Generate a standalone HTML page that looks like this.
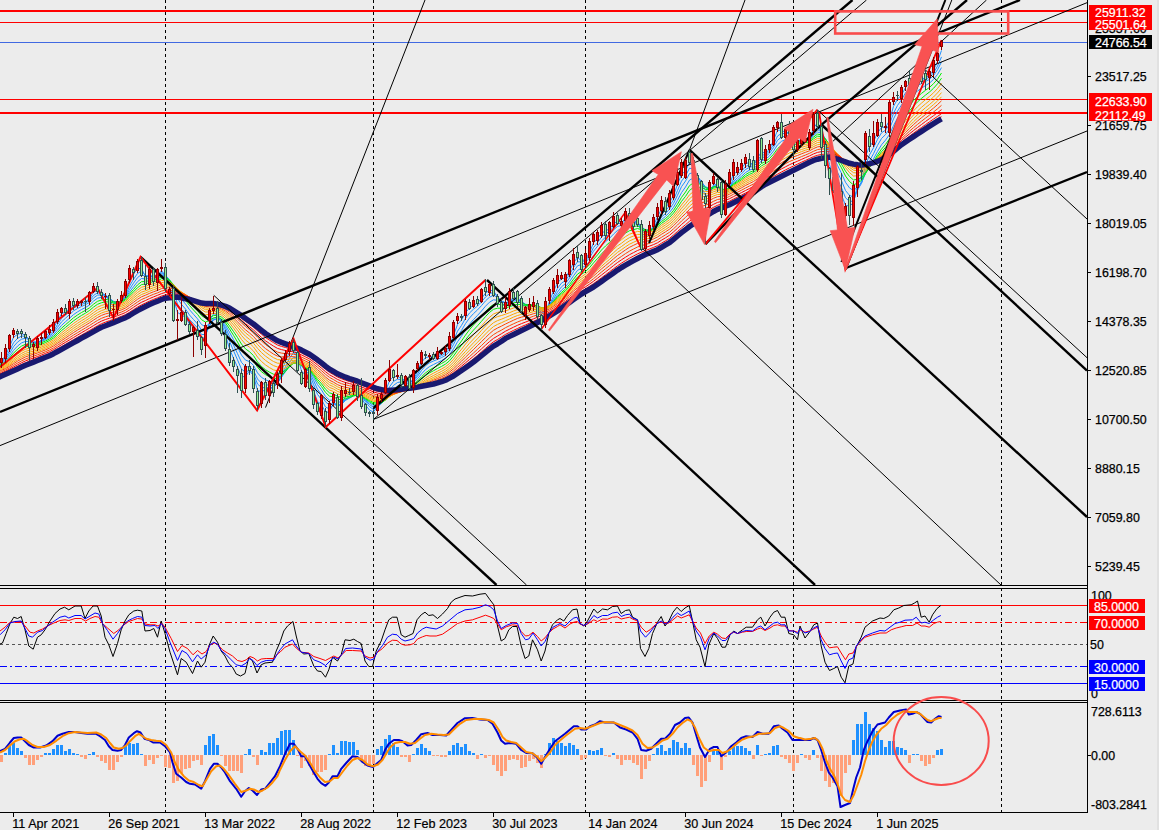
<!DOCTYPE html>
<html><head><meta charset="utf-8"><title>chart</title>
<style>html,body{margin:0;padding:0;background:#ececec;}body{width:1159px;height:830px;overflow:hidden;position:relative;font-family:"Liberation Sans",sans-serif;}</style>
</head><body>
<svg width="1159" height="830" viewBox="0 0 1159 830" style="position:absolute;left:0;top:0">
<rect width="1159" height="830" fill="#ececec"/>
<defs><clipPath id="cm"><rect x="0" y="0" width="1087" height="585"/></clipPath><clipPath id="cr"><rect x="0" y="588" width="1087" height="112"/></clipPath><clipPath id="cd"><rect x="0" y="703" width="1087" height="109"/></clipPath></defs>
<line x1="165.5" y1="0.0" x2="165.5" y2="812.0" stroke="#000" stroke-width="1" stroke-dasharray="3 3" shape-rendering="crispEdges"/>
<line x1="373.5" y1="0.0" x2="373.5" y2="812.0" stroke="#000" stroke-width="1" stroke-dasharray="3 3" shape-rendering="crispEdges"/>
<line x1="585.5" y1="0.0" x2="585.5" y2="812.0" stroke="#000" stroke-width="1" stroke-dasharray="3 3" shape-rendering="crispEdges"/>
<line x1="793.5" y1="0.0" x2="793.5" y2="812.0" stroke="#000" stroke-width="1" stroke-dasharray="3 3" shape-rendering="crispEdges"/>
<line x1="1001.5" y1="0.0" x2="1001.5" y2="812.0" stroke="#000" stroke-width="1" stroke-dasharray="3 3" shape-rendering="crispEdges"/>
<g clip-path="url(#cm)">
<line x1="0.0" y1="11.0" x2="1087.0" y2="11.0" stroke="#ff0000" stroke-width="2" shape-rendering="crispEdges"/>
<line x1="0.0" y1="22.5" x2="1087.0" y2="22.5" stroke="#ff0000" stroke-width="1" shape-rendering="crispEdges"/>
<line x1="0.0" y1="42.5" x2="1087.0" y2="42.5" stroke="#4169e1" stroke-width="1" shape-rendering="crispEdges"/>
<line x1="0.0" y1="99.5" x2="1087.0" y2="99.5" stroke="#ff0000" stroke-width="1" shape-rendering="crispEdges"/>
<line x1="0.0" y1="113.0" x2="1087.0" y2="113.0" stroke="#ff0000" stroke-width="2" shape-rendering="crispEdges"/>
<polyline points="-2.5,365.9 1.5,360.8 5.5,355.8 9.5,346.6 13.5,337.4 17.5,334.3 21.5,333.4 25.5,335.5 29.5,340.4 33.5,344.0 37.5,343.4 41.5,339.9 45.5,336.2 49.5,332.7 53.5,328.5 57.5,320.6 61.5,314.0 65.5,311.8 69.5,308.9 73.5,305.2 77.5,304.1 81.5,302.9 85.5,301.7 89.5,298.8 93.5,292.3 97.5,290.2 101.5,293.0 105.5,295.3 109.5,300.5 113.5,306.6 117.5,305.7 121.5,300.3 125.5,292.4 129.5,280.2 133.5,273.9 137.5,268.7 141.5,268.4 145.5,276.7 149.5,276.7 153.5,276.1 157.5,276.1 161.5,270.6 165.5,275.5 169.5,286.2 173.5,298.2 177.5,312.4 181.5,315.0 185.5,317.3 189.5,324.2 193.5,327.4 197.5,331.2 201.5,339.3 205.5,336.4 209.5,322.2 213.5,313.7 217.5,314.6 221.5,323.1 225.5,335.1 229.5,348.7 233.5,358.3 237.5,367.2 241.5,376.6 245.5,376.7 249.5,370.6 253.5,375.8 257.5,390.4 261.5,391.8 265.5,389.6 269.5,388.5 273.5,387.8 277.5,381.8 281.5,371.3 285.5,361.1 289.5,351.9 293.5,348.3 297.5,357.0 301.5,370.8 305.5,375.5 309.5,377.1 313.5,390.5 317.5,401.6 321.5,404.4 325.5,412.4 329.5,411.9 333.5,403.1 337.5,405.9 341.5,404.6 345.5,396.5 349.5,393.8 353.5,390.4 357.5,390.9 361.5,397.8 365.5,404.9 369.5,410.2 373.5,411.9 377.5,406.7 381.5,400.2 385.5,391.3 389.5,380.7 393.5,376.5 397.5,376.4 401.5,378.9 405.5,380.3 409.5,382.1 413.5,380.1 417.5,370.8 421.5,362.3 425.5,357.6 429.5,356.7 433.5,356.7 437.5,355.8 441.5,354.2 445.5,351.7 449.5,345.7 453.5,335.4 457.5,324.5 461.5,320.0 465.5,312.7 469.5,308.1 473.5,305.3 477.5,303.0 481.5,298.4 485.5,293.1 489.5,290.3 493.5,290.6 497.5,297.2 501.5,304.1 505.5,305.2 509.5,300.8 513.5,297.6 517.5,297.6 521.5,302.8 525.5,308.3 529.5,307.7 533.5,305.7 537.5,308.7 541.5,316.0 545.5,313.7 549.5,301.1 553.5,291.0 557.5,282.9 561.5,278.7 565.5,278.0 569.5,271.0 573.5,262.9 577.5,257.5 581.5,260.8 585.5,259.4 589.5,252.6 593.5,242.8 597.5,238.7 601.5,233.2 605.5,230.9 609.5,228.9 613.5,224.0 617.5,220.8 621.5,222.7 625.5,218.2 629.5,218.1 633.5,222.3 637.5,221.9 641.5,231.9 645.5,237.2 649.5,232.7 653.5,225.7 657.5,216.7 661.5,209.1 665.5,207.4 669.5,202.6 673.5,195.5 677.5,184.4 681.5,174.3 685.5,171.0 689.5,162.3 693.5,167.8 697.5,178.7 701.5,186.9 705.5,195.8 709.5,195.3 713.5,185.1 717.5,184.1 721.5,193.7 725.5,197.3 729.5,184.1 733.5,174.1 737.5,171.4 741.5,168.2 745.5,163.2 749.5,163.0 753.5,164.2 757.5,158.2 761.5,151.7 765.5,153.6 769.5,149.0 773.5,140.3 777.5,130.3 781.5,130.2 785.5,132.5 789.5,132.2 793.5,140.4 797.5,143.5 801.5,140.5 805.5,140.2 809.5,139.8 813.5,128.2 817.5,122.7 821.5,132.3 825.5,147.5 829.5,164.6 833.5,177.4 837.5,188.4 841.5,194.9 845.5,205.5 849.5,205.9 853.5,202.8 857.5,185.2 861.5,175.5 865.5,156.3 869.5,146.3 873.5,141.5 877.5,133.0 881.5,127.4 885.5,127.2 889.5,120.7 893.5,106.4 897.5,99.2 901.5,95.0 905.5,87.6 909.5,83.8 913.5,81.3 917.5,79.9 921.5,79.4 925.5,77.5 929.5,75.7 933.5,69.9 937.5,61.7 941.5,50.4" fill="none" stroke="#1e90ff" stroke-width="1" />
<polyline points="-2.5,365.2 1.5,361.5 5.5,357.9 9.5,350.8 13.5,342.8 17.5,338.4 21.5,336.0 25.5,336.3 29.5,339.2 33.5,342.1 37.5,342.6 41.5,340.6 45.5,337.8 49.5,334.8 53.5,331.0 57.5,324.6 61.5,318.5 65.5,315.0 69.5,311.6 73.5,308.0 77.5,306.1 81.5,304.4 85.5,303.0 89.5,300.5 93.5,295.5 97.5,292.7 101.5,293.5 105.5,294.9 109.5,298.5 113.5,303.5 117.5,304.2 121.5,301.3 125.5,295.6 129.5,286.1 133.5,279.3 137.5,273.5 141.5,271.2 145.5,275.5 149.5,276.0 153.5,275.9 157.5,276.0 161.5,272.4 165.5,274.9 169.5,282.3 173.5,292.0 177.5,304.1 181.5,309.5 185.5,313.4 189.5,319.6 193.5,323.7 197.5,327.8 201.5,334.5 205.5,334.5 209.5,325.7 213.5,318.3 217.5,316.8 221.5,321.4 225.5,330.0 229.5,341.1 233.5,350.7 237.5,359.8 241.5,369.1 245.5,372.3 249.5,370.0 253.5,373.5 257.5,384.0 261.5,387.5 265.5,387.8 269.5,387.6 273.5,387.3 277.5,383.3 281.5,375.5 285.5,366.7 289.5,358.0 293.5,352.8 297.5,356.6 301.5,365.9 305.5,371.2 309.5,374.1 313.5,384.3 317.5,394.4 321.5,399.5 325.5,407.0 329.5,409.0 333.5,404.4 337.5,405.7 341.5,404.9 345.5,399.4 349.5,396.4 353.5,393.0 357.5,392.2 361.5,396.3 365.5,401.7 369.5,406.7 373.5,409.4 377.5,407.1 381.5,402.6 385.5,395.7 389.5,386.8 393.5,381.4 397.5,379.2 401.5,379.7 405.5,380.4 409.5,381.6 413.5,380.6 417.5,374.3 421.5,367.2 425.5,362.0 429.5,359.6 433.5,358.5 437.5,357.2 441.5,355.7 445.5,353.5 449.5,348.9 453.5,340.7 457.5,331.2 461.5,325.4 465.5,318.4 469.5,313.0 473.5,309.1 477.5,306.1 481.5,301.8 485.5,297.0 489.5,293.6 493.5,292.5 497.5,296.2 501.5,301.4 505.5,303.4 509.5,301.4 513.5,299.2 517.5,298.6 521.5,301.8 525.5,306.0 529.5,306.6 533.5,305.8 537.5,307.7 541.5,312.9 545.5,312.6 549.5,304.6 553.5,296.2 557.5,288.4 561.5,283.1 565.5,280.5 569.5,274.6 573.5,267.5 577.5,261.8 581.5,261.9 585.5,260.4 589.5,255.4 593.5,247.6 597.5,242.7 601.5,237.2 605.5,233.9 609.5,231.2 613.5,226.9 617.5,223.5 621.5,223.6 625.5,220.3 629.5,219.3 633.5,221.6 637.5,221.7 641.5,228.4 645.5,233.5 649.5,232.1 653.5,227.7 657.5,220.9 661.5,214.0 665.5,210.7 669.5,206.1 673.5,199.8 677.5,190.5 681.5,181.1 685.5,176.0 689.5,168.1 693.5,169.3 697.5,176.0 701.5,182.7 705.5,190.4 709.5,192.4 713.5,186.9 717.5,185.4 721.5,191.2 725.5,194.6 729.5,187.0 733.5,179.0 737.5,175.0 741.5,171.3 745.5,166.5 749.5,164.9 753.5,164.8 757.5,160.5 761.5,155.1 765.5,154.8 769.5,151.2 773.5,144.5 777.5,136.0 781.5,133.4 785.5,133.6 789.5,132.9 793.5,138.1 797.5,141.2 801.5,140.3 805.5,140.1 809.5,139.9 813.5,132.1 817.5,126.8 821.5,131.4 825.5,142.0 829.5,155.7 833.5,168.2 837.5,179.5 841.5,187.7 845.5,197.8 849.5,201.4 853.5,201.1 857.5,190.0 861.5,181.3 865.5,165.8 869.5,154.9 873.5,147.8 877.5,139.3 881.5,132.8 885.5,130.2 889.5,124.4 893.5,113.3 897.5,105.4 901.5,99.8 905.5,92.8 909.5,88.0 913.5,84.5 917.5,82.2 921.5,81.0 925.5,79.1 929.5,77.3 933.5,72.9 937.5,66.2 941.5,56.9" fill="none" stroke="#1e90ff" stroke-width="1" />
<polyline points="-2.5,365.2 1.5,362.2 5.5,359.2 9.5,353.5 13.5,346.7 17.5,342.1 21.5,339.2 25.5,338.3 29.5,339.8 33.5,341.8 37.5,342.2 41.5,340.8 45.5,338.7 49.5,336.1 53.5,332.8 57.5,327.4 61.5,321.9 65.5,318.2 69.5,314.6 73.5,310.9 77.5,308.5 81.5,306.5 85.5,304.7 89.5,302.3 93.5,298.0 97.5,295.1 101.5,294.9 105.5,295.5 109.5,298.0 113.5,301.9 117.5,302.9 121.5,301.2 125.5,296.9 129.5,289.4 133.5,283.2 137.5,277.6 141.5,274.5 145.5,276.6 149.5,276.7 153.5,276.4 157.5,276.3 161.5,273.6 165.5,275.0 169.5,280.6 173.5,288.4 177.5,298.5 181.5,304.4 185.5,309.0 189.5,315.0 193.5,319.5 197.5,323.9 201.5,330.1 205.5,331.4 209.5,325.7 213.5,320.1 217.5,318.3 221.5,321.1 225.5,327.5 229.5,336.5 233.5,345.1 237.5,353.6 241.5,362.4 245.5,366.8 249.5,366.8 253.5,370.3 257.5,379.0 261.5,383.2 265.5,384.6 269.5,385.4 273.5,385.7 277.5,383.1 281.5,377.2 285.5,369.9 289.5,362.3 293.5,357.1 297.5,358.4 301.5,364.8 305.5,369.1 309.5,372.0 313.5,380.4 317.5,389.2 321.5,394.7 325.5,401.9 329.5,405.1 333.5,403.0 337.5,404.5 341.5,404.3 345.5,400.4 349.5,397.8 353.5,394.9 357.5,393.7 361.5,396.3 365.5,400.4 369.5,404.5 373.5,407.3 377.5,406.4 381.5,403.3 385.5,398.0 389.5,390.6 393.5,385.4 397.5,382.5 401.5,381.8 405.5,381.7 409.5,382.2 413.5,381.3 417.5,376.4 421.5,370.5 425.5,365.7 429.5,362.8 433.5,361.0 437.5,359.4 441.5,357.6 445.5,355.5 449.5,351.4 453.5,344.6 457.5,336.3 461.5,330.4 465.5,323.6 469.5,318.0 473.5,313.6 477.5,309.9 481.5,305.6 485.5,300.9 489.5,297.2 493.5,295.3 497.5,297.3 501.5,300.9 505.5,302.6 509.5,301.5 513.5,299.9 517.5,299.4 521.5,301.5 525.5,304.8 529.5,305.7 533.5,305.3 537.5,306.9 541.5,310.9 545.5,311.3 549.5,305.6 553.5,298.9 557.5,292.1 561.5,286.8 565.5,283.5 569.5,278.0 573.5,271.5 577.5,265.8 581.5,264.5 585.5,262.4 589.5,257.9 593.5,251.2 597.5,246.3 601.5,241.0 605.5,237.2 609.5,234.1 613.5,230.0 617.5,226.4 621.5,225.5 625.5,222.4 629.5,221.0 633.5,222.2 637.5,222.1 641.5,227.0 645.5,231.2 649.5,230.9 653.5,228.0 657.5,222.8 661.5,217.0 665.5,213.6 669.5,209.2 673.5,203.4 677.5,195.3 681.5,186.7 685.5,181.1 689.5,173.6 693.5,172.7 697.5,176.6 701.5,181.4 705.5,187.6 709.5,190.0 713.5,186.6 717.5,185.5 721.5,189.8 725.5,192.7 729.5,187.6 733.5,181.4 737.5,177.6 741.5,173.9 745.5,169.5 749.5,167.3 753.5,166.4 757.5,162.5 761.5,157.8 765.5,156.6 769.5,153.3 773.5,147.6 777.5,140.3 781.5,137.0 785.5,136.0 789.5,134.8 793.5,138.0 797.5,140.4 801.5,139.9 805.5,139.9 809.5,139.7 813.5,134.0 817.5,129.5 821.5,132.1 825.5,139.8 829.5,150.7 833.5,161.7 837.5,172.3 841.5,180.7 845.5,190.5 849.5,195.4 853.5,197.0 857.5,190.0 861.5,183.4 865.5,171.1 869.5,161.1 873.5,153.7 877.5,145.4 881.5,138.5 885.5,134.6 889.5,128.8 893.5,118.9 897.5,111.1 901.5,105.0 905.5,98.0 909.5,92.7 913.5,88.7 917.5,85.6 921.5,83.6 925.5,81.4 929.5,79.4 933.5,75.5 937.5,69.8 941.5,61.9" fill="none" stroke="#1e90ff" stroke-width="1" />
<polyline points="-2.5,365.8 1.5,363.2 5.5,360.7 9.5,356.1 13.5,350.4 17.5,346.1 21.5,342.9 25.5,341.4 29.5,341.8 33.5,342.7 37.5,342.8 41.5,341.6 45.5,339.7 49.5,337.6 53.5,334.7 57.5,330.2 61.5,325.4 65.5,321.7 69.5,318.2 73.5,314.6 77.5,311.9 81.5,309.5 85.5,307.5 89.5,305.0 93.5,301.1 97.5,298.2 101.5,297.3 105.5,297.2 109.5,298.7 113.5,301.3 117.5,302.2 121.5,301.0 125.5,297.9 129.5,292.0 133.5,286.8 137.5,281.7 141.5,278.5 145.5,279.0 149.5,278.5 153.5,277.8 157.5,277.4 161.5,275.1 165.5,275.8 169.5,279.8 173.5,285.8 177.5,293.9 181.5,299.4 185.5,304.0 189.5,309.7 193.5,314.3 197.5,318.8 201.5,324.5 205.5,326.7 209.5,323.5 213.5,319.7 217.5,318.4 221.5,320.4 225.5,325.2 229.5,332.3 233.5,339.6 237.5,347.2 241.5,355.1 245.5,360.1 249.5,361.6 253.5,365.4 257.5,372.9 261.5,377.4 265.5,379.8 269.5,381.4 273.5,382.4 277.5,381.2 281.5,377.1 285.5,371.7 289.5,365.6 293.5,360.9 297.5,361.0 301.5,365.1 305.5,368.2 309.5,370.7 313.5,377.3 317.5,384.6 321.5,389.9 325.5,396.5 329.5,400.3 333.5,399.9 337.5,401.8 341.5,402.3 345.5,400.0 349.5,398.2 353.5,395.9 357.5,394.9 361.5,396.6 365.5,399.6 369.5,402.9 373.5,405.4 377.5,405.2 381.5,403.3 385.5,399.4 389.5,393.6 393.5,389.1 397.5,386.1 401.5,384.7 405.5,383.9 409.5,383.8 413.5,382.7 417.5,378.8 421.5,373.9 425.5,369.6 429.5,366.6 433.5,364.5 437.5,362.5 441.5,360.5 445.5,358.3 449.5,354.6 453.5,348.9 457.5,341.8 461.5,336.1 465.5,329.7 469.5,324.2 473.5,319.5 477.5,315.4 481.5,311.0 485.5,306.2 489.5,302.2 493.5,299.8 497.5,300.3 501.5,302.3 505.5,303.2 509.5,302.4 513.5,301.1 517.5,300.5 521.5,301.9 525.5,304.2 529.5,305.0 533.5,304.9 537.5,306.1 541.5,309.1 545.5,309.6 549.5,305.7 553.5,300.6 557.5,295.0 561.5,290.1 565.5,286.7 569.5,281.7 573.5,275.8 577.5,270.4 581.5,268.1 585.5,265.6 589.5,261.4 593.5,255.6 597.5,250.8 601.5,245.7 605.5,241.7 609.5,238.3 613.5,234.1 617.5,230.4 621.5,228.8 625.5,225.7 629.5,223.9 633.5,224.1 637.5,223.6 641.5,226.8 645.5,229.9 649.5,230.0 653.5,228.1 657.5,224.3 661.5,219.6 665.5,216.4 669.5,212.4 673.5,207.3 677.5,200.3 681.5,192.7 685.5,187.0 689.5,180.1 693.5,177.9 697.5,179.6 701.5,182.4 705.5,186.7 709.5,188.6 713.5,186.4 717.5,185.6 721.5,188.6 725.5,191.0 729.5,187.6 733.5,182.9 737.5,179.7 741.5,176.4 745.5,172.5 749.5,170.1 753.5,168.6 757.5,165.1 761.5,160.8 765.5,159.1 769.5,156.0 773.5,151.1 777.5,144.9 781.5,141.3 785.5,139.6 789.5,137.8 793.5,139.5 797.5,140.8 801.5,140.4 805.5,140.2 809.5,140.0 813.5,135.7 817.5,132.0 821.5,133.4 825.5,138.8 829.5,147.1 833.5,156.2 837.5,165.4 841.5,173.3 845.5,182.3 849.5,187.9 853.5,190.7 857.5,187.0 861.5,182.7 865.5,173.6 869.5,165.5 873.5,158.9 877.5,151.4 881.5,144.8 885.5,140.2 889.5,134.4 893.5,125.6 897.5,118.0 901.5,111.7 905.5,104.9 909.5,99.3 913.5,94.7 917.5,91.0 921.5,88.2 925.5,85.5 929.5,83.1 933.5,79.4 937.5,74.4 941.5,67.6" fill="none" stroke="#1e90ff" stroke-width="1" />
<polyline points="-2.5,366.5 1.5,364.2 5.5,362.0 9.5,358.0 13.5,353.2 17.5,349.2 21.5,346.1 25.5,344.3 29.5,344.0 33.5,344.2 37.5,343.9 41.5,342.7 45.5,341.0 49.5,339.0 53.5,336.4 57.5,332.5 61.5,328.2 65.5,324.7 69.5,321.3 73.5,317.8 77.5,315.0 81.5,312.5 85.5,310.3 89.5,307.8 93.5,304.2 97.5,301.3 101.5,300.0 105.5,299.4 109.5,300.1 113.5,301.9 117.5,302.4 121.5,301.4 125.5,298.9 129.5,294.0 133.5,289.5 137.5,284.9 141.5,281.7 145.5,281.5 149.5,280.6 153.5,279.6 157.5,278.9 161.5,276.8 165.5,277.1 169.5,280.0 173.5,284.7 177.5,291.2 181.5,296.1 185.5,300.4 189.5,305.5 193.5,310.0 197.5,314.3 201.5,319.7 205.5,322.1 209.5,320.4 213.5,317.9 217.5,317.1 221.5,318.9 225.5,322.9 229.5,328.9 233.5,335.3 237.5,342.0 241.5,349.2 245.5,354.2 249.5,356.5 253.5,360.4 257.5,367.2 261.5,371.8 265.5,374.7 269.5,376.8 273.5,378.5 277.5,378.2 281.5,375.5 285.5,371.4 289.5,366.7 293.5,362.8 297.5,362.6 301.5,365.5 305.5,367.9 309.5,370.0 313.5,375.4 317.5,381.6 321.5,386.5 325.5,392.4 329.5,396.2 333.5,396.8 337.5,399.0 341.5,399.9 345.5,398.6 349.5,397.5 353.5,395.9 357.5,395.2 361.5,396.5 365.5,398.9 369.5,401.7 373.5,404.0 377.5,404.1 381.5,402.8 385.5,399.9 389.5,395.3 393.5,391.4 397.5,388.7 401.5,387.1 405.5,386.0 409.5,385.5 413.5,384.3 417.5,381.0 421.5,376.8 425.5,372.9 429.5,370.0 433.5,367.7 437.5,365.6 441.5,363.5 445.5,361.2 449.5,357.8 453.5,352.7 457.5,346.3 461.5,341.0 465.5,335.1 469.5,329.7 473.5,325.0 477.5,320.8 481.5,316.2 485.5,311.5 489.5,307.4 493.5,304.5 497.5,304.1 501.5,304.9 505.5,305.2 509.5,304.2 513.5,302.9 517.5,302.1 521.5,302.9 525.5,304.5 529.5,305.0 533.5,304.9 537.5,305.8 541.5,308.1 545.5,308.5 549.5,305.5 553.5,301.3 557.5,296.6 561.5,292.3 565.5,289.0 569.5,284.5 573.5,279.2 577.5,274.1 581.5,271.5 585.5,268.7 589.5,264.7 593.5,259.4 597.5,254.9 601.5,250.0 605.5,246.0 609.5,242.4 613.5,238.3 617.5,234.5 621.5,232.4 625.5,229.3 629.5,227.2 633.5,226.7 637.5,225.8 641.5,227.9 645.5,230.0 649.5,230.1 653.5,228.6 657.5,225.5 661.5,221.5 665.5,218.6 669.5,215.0 673.5,210.4 677.5,204.2 681.5,197.4 685.5,192.0 689.5,185.6 693.5,182.9 697.5,183.2 701.5,184.7 705.5,187.6 709.5,188.8 713.5,186.9 717.5,186.2 721.5,188.4 725.5,190.2 729.5,187.6 733.5,183.9 737.5,181.1 741.5,178.2 745.5,174.7 749.5,172.3 753.5,170.7 757.5,167.4 761.5,163.5 765.5,161.4 769.5,158.5 773.5,154.2 777.5,148.7 781.5,145.2 785.5,143.1 789.5,141.1 793.5,141.7 797.5,142.3 801.5,141.6 805.5,141.2 809.5,140.8 813.5,137.2 817.5,134.1 821.5,134.9 825.5,138.9 829.5,145.3 833.5,152.9 837.5,160.8 841.5,167.9 845.5,176.0 849.5,181.5 853.5,184.9 857.5,183.0 861.5,180.4 865.5,173.6 869.5,167.2 873.5,161.5 877.5,155.0 881.5,149.1 885.5,144.4 889.5,138.9 893.5,131.0 897.5,123.9 901.5,117.6 905.5,111.1 909.5,105.5 913.5,100.6 917.5,96.6 921.5,93.4 925.5,90.3 929.5,87.4 933.5,83.7 937.5,79.1 941.5,73.0" fill="none" stroke="#00ee00" stroke-width="1" />
<polyline points="-2.5,367.4 1.5,365.3 5.5,363.2 9.5,359.7 13.5,355.4 17.5,351.8 21.5,348.9 25.5,346.9 29.5,346.2 33.5,346.0 37.5,345.4 41.5,344.1 45.5,342.5 49.5,340.5 53.5,338.1 57.5,334.5 61.5,330.6 65.5,327.4 69.5,324.1 73.5,320.8 77.5,318.0 81.5,315.4 85.5,313.1 89.5,310.5 93.5,307.1 97.5,304.3 101.5,302.7 105.5,301.8 109.5,302.0 113.5,303.1 117.5,303.3 121.5,302.3 125.5,300.0 129.5,295.9 133.5,291.8 137.5,287.7 141.5,284.6 145.5,283.9 149.5,282.7 153.5,281.6 157.5,280.7 161.5,278.7 165.5,278.6 169.5,280.8 173.5,284.4 177.5,289.7 181.5,294.0 185.5,297.9 189.5,302.5 193.5,306.6 197.5,310.7 201.5,315.6 205.5,318.1 209.5,317.2 213.5,315.6 217.5,315.3 221.5,317.1 225.5,320.6 229.5,325.8 233.5,331.5 237.5,337.5 241.5,344.1 245.5,348.9 249.5,351.7 253.5,355.6 257.5,361.9 261.5,366.5 265.5,369.7 269.5,372.2 273.5,374.2 277.5,374.6 281.5,372.9 285.5,370.0 289.5,366.4 293.5,363.3 297.5,363.1 301.5,365.4 305.5,367.5 309.5,369.3 313.5,374.0 317.5,379.4 321.5,383.8 325.5,389.2 329.5,392.9 333.5,394.0 337.5,396.3 341.5,397.5 345.5,396.9 349.5,396.3 353.5,395.3 357.5,394.8 361.5,396.0 365.5,398.1 369.5,400.6 373.5,402.6 377.5,403.1 381.5,402.2 385.5,400.0 389.5,396.2 393.5,393.0 397.5,390.4 401.5,388.8 405.5,387.6 409.5,386.9 413.5,385.8 417.5,382.8 421.5,379.1 425.5,375.6 429.5,372.9 433.5,370.7 437.5,368.5 441.5,366.4 445.5,364.1 449.5,360.8 453.5,356.1 457.5,350.4 461.5,345.3 465.5,339.8 469.5,334.7 473.5,330.1 477.5,325.8 481.5,321.3 485.5,316.6 489.5,312.4 493.5,309.3 497.5,308.2 501.5,308.2 505.5,307.8 509.5,306.7 513.5,305.3 517.5,304.3 521.5,304.6 525.5,305.6 529.5,305.8 533.5,305.5 537.5,306.0 541.5,307.7 545.5,307.9 549.5,305.4 553.5,301.8 557.5,297.8 561.5,293.9 565.5,290.8 569.5,286.6 573.5,281.8 577.5,277.1 581.5,274.3 585.5,271.5 589.5,267.7 593.5,262.9 597.5,258.5 601.5,253.9 605.5,249.9 609.5,246.3 613.5,242.3 617.5,238.5 621.5,236.1 625.5,233.0 629.5,230.7 633.5,229.7 637.5,228.5 641.5,229.7 645.5,231.1 649.5,230.9 653.5,229.6 657.5,226.9 661.5,223.4 665.5,220.6 669.5,217.4 673.5,213.1 677.5,207.5 681.5,201.4 685.5,196.4 689.5,190.4 693.5,187.4 697.5,187.0 701.5,187.6 705.5,189.3 709.5,189.9 713.5,188.2 717.5,187.3 721.5,188.8 725.5,190.2 729.5,188.0 733.5,184.8 737.5,182.3 741.5,179.7 745.5,176.6 749.5,174.3 753.5,172.5 757.5,169.4 761.5,165.8 765.5,163.6 769.5,160.8 773.5,156.9 777.5,152.0 781.5,148.7 785.5,146.4 789.5,144.2 793.5,144.2 797.5,144.2 801.5,143.3 805.5,142.7 809.5,142.0 813.5,138.9 817.5,136.2 821.5,136.5 825.5,139.5 829.5,144.6 833.5,151.0 837.5,157.8 841.5,164.1 845.5,171.2 849.5,176.5 853.5,180.0 857.5,179.2 861.5,177.6 865.5,172.4 869.5,167.3 873.5,162.6 877.5,157.1 881.5,151.8 885.5,147.4 889.5,142.3 893.5,135.1 897.5,128.5 901.5,122.5 905.5,116.4 909.5,110.9 913.5,106.1 917.5,101.9 921.5,98.4 925.5,95.1 929.5,92.0 933.5,88.3 937.5,83.8 941.5,78.2" fill="none" stroke="#00ee00" stroke-width="1" />
<polyline points="-2.5,368.3 1.5,366.3 5.5,364.3 9.5,361.2 13.5,357.4 17.5,354.1 21.5,351.3 25.5,349.2 29.5,348.3 33.5,347.8 37.5,346.9 41.5,345.6 45.5,344.0 49.5,342.1 53.5,339.8 57.5,336.5 61.5,332.9 65.5,329.8 69.5,326.7 73.5,323.5 77.5,320.7 81.5,318.1 85.5,315.7 89.5,313.2 93.5,310.0 97.5,307.2 101.5,305.4 105.5,304.3 109.5,304.1 113.5,304.7 117.5,304.5 121.5,303.5 125.5,301.4 129.5,297.7 133.5,293.9 137.5,290.2 141.5,287.2 145.5,286.3 149.5,284.9 153.5,283.6 157.5,282.5 161.5,280.6 165.5,280.2 169.5,281.9 173.5,284.8 177.5,289.1 181.5,292.8 185.5,296.2 189.5,300.3 193.5,304.1 197.5,307.8 201.5,312.3 205.5,314.8 209.5,314.3 213.5,313.3 217.5,313.4 221.5,315.1 225.5,318.3 229.5,322.9 233.5,328.1 237.5,333.6 241.5,339.5 245.5,344.2 249.5,347.2 253.5,351.1 257.5,357.0 261.5,361.5 265.5,364.9 269.5,367.6 273.5,369.9 277.5,370.8 281.5,369.9 285.5,367.9 289.5,365.2 293.5,362.9 297.5,362.8 301.5,364.8 305.5,366.7 309.5,368.5 313.5,372.6 317.5,377.4 321.5,381.5 325.5,386.4 329.5,390.0 333.5,391.5 337.5,393.8 341.5,395.2 345.5,395.0 349.5,394.9 353.5,394.2 357.5,394.1 361.5,395.3 365.5,397.2 369.5,399.4 373.5,401.3 377.5,401.9 381.5,401.4 385.5,399.7 389.5,396.7 393.5,393.9 397.5,391.6 401.5,390.1 405.5,388.9 409.5,388.1 413.5,387.0 417.5,384.4 421.5,381.1 425.5,377.9 429.5,375.4 433.5,373.2 437.5,371.1 441.5,369.0 445.5,366.7 449.5,363.5 453.5,359.3 457.5,354.0 461.5,349.3 465.5,344.1 469.5,339.2 473.5,334.7 477.5,330.4 481.5,326.0 485.5,321.4 489.5,317.3 493.5,314.0 497.5,312.4 501.5,311.8 505.5,310.9 509.5,309.5 513.5,308.0 517.5,306.8 521.5,306.7 525.5,307.2 529.5,307.0 533.5,306.5 537.5,306.7 541.5,307.9 545.5,307.8 549.5,305.5 553.5,302.4 557.5,298.8 561.5,295.3 565.5,292.3 569.5,288.4 573.5,284.0 577.5,279.6 581.5,276.8 585.5,274.0 589.5,270.4 593.5,265.9 597.5,261.8 601.5,257.4 605.5,253.5 609.5,249.9 613.5,246.0 617.5,242.3 621.5,239.7 625.5,236.6 629.5,234.2 633.5,232.8 637.5,231.4 641.5,231.9 645.5,232.7 649.5,232.3 653.5,231.0 657.5,228.6 661.5,225.4 665.5,222.7 669.5,219.7 673.5,215.7 677.5,210.6 681.5,205.0 685.5,200.2 689.5,194.8 693.5,191.6 697.5,190.7 701.5,190.6 705.5,191.5 709.5,191.6 713.5,189.8 717.5,188.7 721.5,189.8 725.5,190.7 729.5,188.7 733.5,185.9 737.5,183.6 741.5,181.2 745.5,178.3 749.5,176.1 753.5,174.3 757.5,171.3 761.5,167.9 765.5,165.6 769.5,163.0 773.5,159.4 777.5,155.0 781.5,151.8 785.5,149.5 789.5,147.2 793.5,146.8 797.5,146.4 801.5,145.3 805.5,144.4 809.5,143.5 813.5,140.7 817.5,138.3 821.5,138.3 825.5,140.6 829.5,144.7 833.5,150.0 837.5,155.8 841.5,161.4 845.5,167.7 849.5,172.6 853.5,176.0 857.5,175.8 861.5,174.9 865.5,170.9 869.5,166.8 873.5,162.9 877.5,158.2 881.5,153.6 885.5,149.5 889.5,144.8 893.5,138.3 897.5,132.1 901.5,126.5 905.5,120.8 909.5,115.6 913.5,110.9 917.5,106.7 921.5,103.1 925.5,99.6 929.5,96.4 933.5,92.8 937.5,88.5 941.5,83.3" fill="none" stroke="#ffa500" stroke-width="1" />
<polyline points="-2.5,369.2 1.5,367.3 5.5,365.4 9.5,362.6 13.5,359.1 17.5,356.1 21.5,353.4 25.5,351.4 29.5,350.2 33.5,349.5 37.5,348.5 41.5,347.1 45.5,345.5 49.5,343.7 53.5,341.4 57.5,338.3 61.5,335.0 65.5,332.0 69.5,329.0 73.5,326.0 77.5,323.3 81.5,320.7 85.5,318.3 89.5,315.7 93.5,312.7 97.5,309.9 101.5,308.0 105.5,306.7 109.5,306.3 113.5,306.4 117.5,306.0 121.5,304.9 125.5,302.9 129.5,299.5 133.5,296.1 137.5,292.5 141.5,289.7 145.5,288.5 149.5,287.0 153.5,285.6 157.5,284.4 161.5,282.6 165.5,282.0 169.5,283.2 173.5,285.5 177.5,289.0 181.5,292.2 185.5,295.2 189.5,298.8 193.5,302.2 197.5,305.7 201.5,309.7 205.5,312.0 209.5,311.9 213.5,311.2 217.5,311.5 221.5,313.2 225.5,316.1 229.5,320.3 233.5,325.0 237.5,330.1 241.5,335.5 245.5,340.0 249.5,343.1 253.5,347.0 257.5,352.5 261.5,356.9 265.5,360.4 269.5,363.2 273.5,365.6 277.5,367.0 281.5,366.6 285.5,365.3 289.5,363.4 293.5,361.8 297.5,361.9 301.5,363.8 305.5,365.6 309.5,367.4 313.5,371.1 317.5,375.4 321.5,379.3 325.5,383.9 329.5,387.4 333.5,389.0 337.5,391.4 341.5,392.9 345.5,393.1 349.5,393.3 353.5,393.0 357.5,393.1 361.5,394.3 365.5,396.1 369.5,398.1 373.5,400.0 377.5,400.7 381.5,400.4 385.5,399.2 389.5,396.7 393.5,394.3 397.5,392.4 401.5,391.0 405.5,389.8 409.5,389.0 413.5,387.9 417.5,385.6 421.5,382.7 425.5,379.9 429.5,377.5 433.5,375.5 437.5,373.4 441.5,371.4 445.5,369.1 449.5,366.1 453.5,362.1 457.5,357.2 461.5,352.8 465.5,347.9 469.5,343.3 473.5,339.0 477.5,334.8 481.5,330.4 485.5,326.0 489.5,321.8 493.5,318.4 497.5,316.6 501.5,315.5 505.5,314.2 509.5,312.7 513.5,311.0 517.5,309.6 521.5,309.1 525.5,309.1 529.5,308.7 533.5,308.0 537.5,307.8 541.5,308.5 545.5,308.2 549.5,306.0 553.5,303.2 557.5,299.9 561.5,296.5 565.5,293.6 569.5,290.0 573.5,285.9 577.5,281.8 581.5,279.0 585.5,276.2 589.5,272.8 593.5,268.7 597.5,264.7 601.5,260.6 605.5,256.8 609.5,253.3 613.5,249.5 617.5,245.8 621.5,243.2 625.5,240.1 629.5,237.6 633.5,236.0 637.5,234.4 641.5,234.4 645.5,234.7 649.5,234.1 653.5,232.7 657.5,230.5 661.5,227.5 665.5,224.9 669.5,222.0 673.5,218.2 677.5,213.4 681.5,208.3 685.5,203.8 689.5,198.7 693.5,195.5 697.5,194.2 701.5,193.6 705.5,193.9 709.5,193.6 713.5,191.7 717.5,190.5 721.5,191.1 725.5,191.6 729.5,189.8 733.5,187.2 737.5,185.0 741.5,182.7 745.5,180.1 749.5,177.9 753.5,176.1 757.5,173.1 761.5,169.9 765.5,167.6 769.5,165.1 773.5,161.7 777.5,157.8 781.5,154.7 785.5,152.4 789.5,150.1 793.5,149.3 797.5,148.6 801.5,147.3 805.5,146.2 809.5,145.2 813.5,142.6 817.5,140.4 821.5,140.2 825.5,141.9 829.5,145.1 833.5,149.7 837.5,154.7 841.5,159.6 845.5,165.2 849.5,169.6 853.5,172.7 857.5,173.0 861.5,172.5 865.5,169.4 869.5,166.1 873.5,162.8 877.5,158.7 881.5,154.7 885.5,150.9 889.5,146.6 893.5,140.7 897.5,135.0 901.5,129.7 905.5,124.4 909.5,119.5 913.5,115.0 917.5,111.0 921.5,107.3 925.5,103.9 929.5,100.6 933.5,97.0 937.5,92.9 941.5,88.1" fill="none" stroke="#ffa500" stroke-width="1" />
<polyline points="-2.5,370.2 1.5,368.4 5.5,366.5 9.5,363.9 13.5,360.7 17.5,357.9 21.5,355.4 25.5,353.4 29.5,352.1 33.5,351.2 37.5,350.1 41.5,348.6 45.5,347.0 49.5,345.2 53.5,343.0 57.5,340.1 61.5,336.9 65.5,334.1 69.5,331.2 73.5,328.3 77.5,325.7 81.5,323.1 85.5,320.7 89.5,318.2 93.5,315.2 97.5,312.6 101.5,310.6 105.5,309.2 109.5,308.5 113.5,308.3 117.5,307.7 121.5,306.4 125.5,304.6 129.5,301.4 133.5,298.1 137.5,294.8 141.5,292.1 145.5,290.8 149.5,289.2 153.5,287.7 157.5,286.4 161.5,284.5 165.5,283.8 169.5,284.7 173.5,286.5 177.5,289.3 181.5,292.1 185.5,294.7 189.5,297.8 193.5,300.9 197.5,304.0 201.5,307.6 205.5,309.7 209.5,309.8 213.5,309.4 217.5,309.9 221.5,311.5 225.5,314.1 229.5,317.9 233.5,322.3 237.5,327.0 241.5,332.0 245.5,336.2 249.5,339.4 253.5,343.2 257.5,348.3 261.5,352.6 265.5,356.1 269.5,359.0 273.5,361.5 277.5,363.2 281.5,363.3 285.5,362.6 289.5,361.3 293.5,360.3 297.5,360.6 301.5,362.5 305.5,364.3 309.5,366.0 313.5,369.5 317.5,373.5 321.5,377.2 325.5,381.5 329.5,384.9 333.5,386.7 337.5,389.1 341.5,390.7 345.5,391.2 349.5,391.6 353.5,391.6 357.5,391.9 361.5,393.1 365.5,394.9 369.5,396.8 373.5,398.6 377.5,399.5 381.5,399.4 385.5,398.5 389.5,396.4 393.5,394.5 397.5,392.8 401.5,391.5 405.5,390.4 409.5,389.6 413.5,388.6 417.5,386.5 421.5,383.9 425.5,381.4 429.5,379.3 433.5,377.4 437.5,375.4 441.5,373.5 445.5,371.3 449.5,368.3 453.5,364.7 457.5,360.1 461.5,355.9 465.5,351.4 469.5,347.0 473.5,342.8 477.5,338.7 481.5,334.5 485.5,330.1 489.5,326.1 493.5,322.7 497.5,320.6 501.5,319.2 505.5,317.5 509.5,315.8 513.5,314.1 517.5,312.5 521.5,311.7 525.5,311.4 529.5,310.7 533.5,309.7 537.5,309.2 541.5,309.5 545.5,308.9 549.5,306.8 553.5,304.1 557.5,301.0 561.5,297.8 565.5,295.0 569.5,291.6 573.5,287.7 577.5,283.9 581.5,281.0 585.5,278.3 589.5,275.1 593.5,271.3 597.5,267.5 601.5,263.6 605.5,259.9 609.5,256.4 613.5,252.8 617.5,249.2 621.5,246.5 625.5,243.5 629.5,240.9 633.5,239.2 637.5,237.4 641.5,237.0 645.5,236.8 649.5,236.1 653.5,234.7 657.5,232.5 661.5,229.7 665.5,227.2 669.5,224.4 673.5,220.7 677.5,216.2 681.5,211.4 685.5,207.2 689.5,202.4 693.5,199.3 697.5,197.7 701.5,196.7 705.5,196.5 709.5,195.7 713.5,193.8 717.5,192.4 721.5,192.6 725.5,192.8 729.5,191.1 733.5,188.7 737.5,186.5 741.5,184.3 745.5,181.8 749.5,179.7 753.5,177.8 757.5,175.0 761.5,171.8 765.5,169.5 769.5,167.1 773.5,164.0 777.5,160.4 781.5,157.5 785.5,155.2 789.5,152.9 793.5,151.9 797.5,150.9 801.5,149.5 805.5,148.2 809.5,147.0 813.5,144.6 817.5,142.5 821.5,142.1 825.5,143.4 829.5,145.9 833.5,149.8 837.5,154.2 841.5,158.4 845.5,163.3 849.5,167.3 853.5,170.2 857.5,170.7 861.5,170.6 865.5,168.0 869.5,165.3 873.5,162.5 877.5,159.0 881.5,155.5 885.5,152.0 889.5,147.9 893.5,142.6 897.5,137.3 901.5,132.4 905.5,127.5 909.5,122.9 913.5,118.6 917.5,114.7 921.5,111.2 925.5,107.7 929.5,104.5 933.5,101.0 937.5,97.1 941.5,92.6" fill="none" stroke="#ffa500" stroke-width="1" />
<polyline points="-2.5,371.2 1.5,369.4 5.5,367.6 9.5,365.1 13.5,362.2 17.5,359.6 21.5,357.2 25.5,355.2 29.5,353.9 33.5,352.8 37.5,351.6 41.5,350.1 45.5,348.5 49.5,346.7 53.5,344.5 57.5,341.8 61.5,338.8 65.5,336.1 69.5,333.3 73.5,330.5 77.5,327.9 81.5,325.4 85.5,323.0 89.5,320.6 93.5,317.7 97.5,315.1 101.5,313.0 105.5,311.6 109.5,310.7 113.5,310.2 117.5,309.4 121.5,308.1 125.5,306.3 129.5,303.3 133.5,300.2 137.5,297.1 141.5,294.5 145.5,293.0 149.5,291.3 153.5,289.7 157.5,288.4 161.5,286.6 165.5,285.7 169.5,286.3 173.5,287.6 177.5,289.9 181.5,292.3 185.5,294.6 189.5,297.3 193.5,300.1 197.5,302.9 201.5,306.1 205.5,307.9 209.5,308.1 213.5,307.9 217.5,308.4 221.5,310.1 225.5,312.4 229.5,315.9 233.5,319.9 237.5,324.2 241.5,328.8 245.5,332.9 249.5,336.0 253.5,339.7 257.5,344.5 261.5,348.7 265.5,352.2 269.5,355.1 273.5,357.7 277.5,359.6 281.5,360.0 285.5,359.8 289.5,359.0 293.5,358.5 297.5,359.1 301.5,360.9 305.5,362.8 309.5,364.5 313.5,367.9 317.5,371.6 321.5,375.1 325.5,379.2 329.5,382.5 333.5,384.4 337.5,386.8 341.5,388.5 345.5,389.2 349.5,389.9 353.5,390.1 357.5,390.6 361.5,391.9 365.5,393.5 369.5,395.4 373.5,397.2 377.5,398.1 381.5,398.2 385.5,397.7 389.5,396.0 393.5,394.3 397.5,392.9 401.5,391.7 405.5,390.7 409.5,389.9 413.5,389.0 417.5,387.2 421.5,384.9 425.5,382.7 429.5,380.7 433.5,379.0 437.5,377.1 441.5,375.3 445.5,373.1 449.5,370.3 453.5,366.9 457.5,362.7 461.5,358.7 465.5,354.4 469.5,350.3 473.5,346.3 477.5,342.3 481.5,338.2 485.5,334.0 489.5,330.0 493.5,326.6 497.5,324.4 501.5,322.7 505.5,320.8 509.5,319.0 513.5,317.1 517.5,315.5 521.5,314.4 525.5,313.7 529.5,312.8 533.5,311.6 537.5,310.9 541.5,310.7 545.5,309.8 549.5,307.7 553.5,305.2 557.5,302.2 561.5,299.1 565.5,296.4 569.5,293.1 573.5,289.4 577.5,285.8 581.5,283.0 585.5,280.3 589.5,277.2 593.5,273.7 597.5,270.1 601.5,266.3 605.5,262.8 609.5,259.4 613.5,255.9 617.5,252.4 621.5,249.7 625.5,246.8 629.5,244.2 633.5,242.3 637.5,240.4 641.5,239.6 645.5,239.1 649.5,238.2 653.5,236.8 657.5,234.7 661.5,232.0 665.5,229.5 669.5,226.8 673.5,223.2 677.5,219.0 681.5,214.5 685.5,210.4 689.5,206.0 693.5,202.8 697.5,201.0 701.5,199.7 705.5,199.1 709.5,198.0 713.5,196.0 717.5,194.5 721.5,194.4 725.5,194.2 729.5,192.6 733.5,190.3 737.5,188.2 741.5,186.0 745.5,183.7 749.5,181.6 753.5,179.6 757.5,176.8 761.5,173.8 765.5,171.4 769.5,169.1 773.5,166.2 777.5,162.9 781.5,160.1 785.5,157.9 789.5,155.6 793.5,154.4 797.5,153.2 801.5,151.6 805.5,150.2 809.5,148.9 813.5,146.6 817.5,144.7 821.5,144.2 825.5,145.1 829.5,147.0 833.5,150.3 837.5,154.1 841.5,157.8 845.5,162.1 849.5,165.6 853.5,168.2 857.5,168.9 861.5,168.9 865.5,166.8 869.5,164.6 873.5,162.2 877.5,159.2 881.5,156.1 885.5,152.8 889.5,149.0 893.5,144.2 897.5,139.3 901.5,134.6 905.5,130.1 909.5,125.8 913.5,121.8 917.5,118.0 921.5,114.6 925.5,111.2 929.5,108.0 933.5,104.6 937.5,101.0 941.5,96.8" fill="none" stroke="#ffa500" stroke-width="1" />
<polyline points="-2.5,372.2 1.5,370.4 5.5,368.6 9.5,366.3 13.5,363.7 17.5,361.2 21.5,358.9 25.5,356.9 29.5,355.5 33.5,354.3 37.5,353.0 41.5,351.5 45.5,349.9 49.5,348.2 53.5,346.0 57.5,343.4 61.5,340.6 65.5,338.0 69.5,335.3 73.5,332.6 77.5,330.1 81.5,327.6 85.5,325.3 89.5,322.8 93.5,320.1 97.5,317.5 101.5,315.4 105.5,313.9 109.5,312.9 113.5,312.2 117.5,311.2 121.5,309.8 125.5,308.0 129.5,305.2 133.5,302.3 137.5,299.3 141.5,296.8 145.5,295.2 149.5,293.4 153.5,291.8 157.5,290.4 161.5,288.6 165.5,287.6 169.5,288.0 173.5,289.0 177.5,290.7 181.5,292.8 185.5,294.8 189.5,297.1 193.5,299.5 197.5,302.1 201.5,304.9 205.5,306.5 209.5,306.7 213.5,306.6 217.5,307.2 221.5,308.8 225.5,310.9 229.5,314.1 233.5,317.8 237.5,321.8 241.5,326.0 245.5,329.8 249.5,333.0 253.5,336.5 257.5,341.1 261.5,345.1 265.5,348.6 269.5,351.4 273.5,354.1 277.5,356.1 281.5,356.9 285.5,357.0 289.5,356.7 293.5,356.6 297.5,357.4 301.5,359.2 305.5,361.1 309.5,363.0 313.5,366.1 317.5,369.6 321.5,373.1 325.5,377.0 329.5,380.2 333.5,382.2 337.5,384.6 341.5,386.3 345.5,387.3 349.5,388.1 353.5,388.6 357.5,389.2 361.5,390.5 365.5,392.2 369.5,394.0 373.5,395.7 377.5,396.7 381.5,397.0 385.5,396.7 389.5,395.4 393.5,394.0 397.5,392.8 401.5,391.7 405.5,390.7 409.5,390.0 413.5,389.2 417.5,387.6 421.5,385.6 425.5,383.6 429.5,381.9 433.5,380.3 437.5,378.6 441.5,376.8 445.5,374.8 449.5,372.1 453.5,368.9 457.5,365.0 461.5,361.2 465.5,357.2 469.5,353.3 473.5,349.5 477.5,345.6 481.5,341.6 485.5,337.6 489.5,333.7 493.5,330.3 497.5,328.0 501.5,326.1 505.5,324.0 509.5,322.1 513.5,320.2 517.5,318.4 521.5,317.1 525.5,316.2 529.5,315.0 533.5,313.7 537.5,312.6 541.5,312.1 545.5,311.0 549.5,308.9 553.5,306.3 557.5,303.5 561.5,300.5 565.5,297.8 569.5,294.6 573.5,291.1 577.5,287.7 581.5,284.8 585.5,282.2 589.5,279.3 593.5,276.0 597.5,272.5 601.5,268.9 605.5,265.6 609.5,262.3 613.5,258.8 617.5,255.5 621.5,252.7 625.5,249.9 629.5,247.3 633.5,245.3 637.5,243.4 641.5,242.3 645.5,241.5 649.5,240.4 653.5,238.9 657.5,237.0 661.5,234.3 665.5,231.8 669.5,229.2 673.5,225.7 677.5,221.7 681.5,217.4 685.5,213.5 689.5,209.4 693.5,206.3 697.5,204.3 701.5,202.8 705.5,201.7 709.5,200.4 713.5,198.3 717.5,196.7 721.5,196.3 725.5,195.9 729.5,194.2 733.5,192.0 737.5,189.9 741.5,187.8 745.5,185.5 749.5,183.5 753.5,181.5 757.5,178.7 761.5,175.7 765.5,173.3 769.5,171.1 773.5,168.4 777.5,165.3 781.5,162.7 785.5,160.5 789.5,158.3 793.5,156.8 797.5,155.5 801.5,153.8 805.5,152.3 809.5,150.8 813.5,148.6 817.5,146.9 821.5,146.3 825.5,146.8 829.5,148.2 833.5,151.1 837.5,154.3 841.5,157.5 845.5,161.2 849.5,164.4 853.5,166.7 857.5,167.4 861.5,167.6 865.5,165.9 869.5,164.1 873.5,162.0 877.5,159.3 881.5,156.6 885.5,153.4 889.5,150.0 893.5,145.5 897.5,140.9 901.5,136.5 905.5,132.4 909.5,128.4 913.5,124.6 917.5,121.0 921.5,117.7 925.5,114.5 929.5,111.3 933.5,108.1 937.5,104.6 941.5,100.8" fill="none" stroke="#ff4500" stroke-width="1" />
<polyline points="-2.5,373.5 1.5,371.7 5.5,369.9 9.5,367.8 13.5,365.4 17.5,363.1 21.5,360.9 25.5,359.0 29.5,357.5 33.5,356.2 37.5,354.8 41.5,353.3 45.5,351.7 49.5,350.0 53.5,347.9 57.5,345.3 61.5,342.7 65.5,340.2 69.5,337.7 73.5,335.1 77.5,332.7 81.5,330.3 85.5,327.9 89.5,325.5 93.5,322.9 97.5,320.4 101.5,318.3 105.5,316.8 109.5,315.6 113.5,314.6 117.5,313.4 121.5,312.0 125.5,310.2 129.5,307.6 133.5,304.8 137.5,302.0 141.5,299.5 145.5,297.8 149.5,296.0 153.5,294.3 157.5,292.9 161.5,291.1 165.5,290.0 169.5,290.2 173.5,290.7 177.5,291.9 181.5,293.6 185.5,295.3 189.5,297.2 193.5,299.3 197.5,301.5 201.5,303.9 205.5,305.2 209.5,305.4 213.5,305.3 217.5,306.1 221.5,307.5 225.5,309.4 229.5,312.2 233.5,315.6 237.5,319.1 241.5,322.9 245.5,326.5 249.5,329.6 253.5,333.0 257.5,337.2 261.5,341.0 265.5,344.5 269.5,347.3 273.5,349.9 277.5,352.1 281.5,353.1 285.5,353.6 289.5,353.8 293.5,354.2 297.5,355.2 301.5,357.1 305.5,359.0 309.5,360.9 313.5,364.0 317.5,367.3 321.5,370.6 325.5,374.3 329.5,377.4 333.5,379.6 337.5,382.0 341.5,383.7 345.5,384.8 349.5,385.8 353.5,386.6 357.5,387.4 361.5,388.8 365.5,390.4 369.5,392.1 373.5,393.8 377.5,395.0 381.5,395.4 385.5,395.4 389.5,394.4 393.5,393.4 397.5,392.4 401.5,391.4 405.5,390.6 409.5,389.9 413.5,389.2 417.5,387.9 421.5,386.2 425.5,384.5 429.5,383.0 433.5,381.6 437.5,380.0 441.5,378.4 445.5,376.5 449.5,374.0 453.5,371.1 457.5,367.4 461.5,363.9 465.5,360.2 469.5,356.6 473.5,353.0 477.5,349.3 481.5,345.5 485.5,341.6 489.5,337.8 493.5,334.6 497.5,332.2 501.5,330.1 505.5,327.7 509.5,325.7 513.5,323.8 517.5,322.0 521.5,320.4 525.5,319.2 529.5,317.7 533.5,316.2 537.5,314.9 541.5,314.0 545.5,312.6 549.5,310.4 553.5,307.9 557.5,305.2 561.5,302.3 565.5,299.5 569.5,296.5 573.5,293.2 577.5,289.9 581.5,287.1 585.5,284.5 589.5,281.8 593.5,278.7 597.5,275.4 601.5,272.0 605.5,268.8 609.5,265.6 613.5,262.3 617.5,259.1 621.5,256.4 625.5,253.6 629.5,251.1 633.5,249.0 637.5,247.0 641.5,245.6 645.5,244.5 649.5,243.3 653.5,241.8 657.5,239.8 661.5,237.3 665.5,234.8 669.5,232.3 673.5,228.8 677.5,225.0 681.5,221.0 685.5,217.4 689.5,213.5 693.5,210.4 697.5,208.3 701.5,206.5 705.5,205.1 709.5,203.5 713.5,201.3 717.5,199.5 721.5,198.8 725.5,198.1 729.5,196.4 733.5,194.2 737.5,192.2 741.5,190.2 745.5,188.0 749.5,186.0 753.5,183.9 757.5,181.1 761.5,178.2 765.5,175.8 769.5,173.6 773.5,171.1 777.5,168.3 781.5,165.8 785.5,163.7 789.5,161.5 793.5,159.9 797.5,158.3 801.5,156.6 805.5,155.0 809.5,153.3 813.5,151.3 817.5,149.6 821.5,148.9 825.5,149.1 829.5,150.0 833.5,152.3 837.5,155.0 841.5,157.7 845.5,160.7 849.5,163.4 853.5,165.4 857.5,166.1 861.5,166.4 865.5,165.1 869.5,163.6 873.5,161.8 877.5,159.6 881.5,157.2 885.5,154.2 889.5,151.0 893.5,146.9 897.5,142.7 901.5,138.6 905.5,134.9 909.5,131.2 913.5,127.7 917.5,124.4 921.5,121.2 925.5,118.1 929.5,115.1 933.5,112.0 937.5,108.8 941.5,105.3" fill="none" stroke="#ff4500" stroke-width="1" />
<polyline points="-2.5,374.8 1.5,373.0 5.5,371.2 9.5,369.2 13.5,367.0 17.5,364.9 21.5,362.8 25.5,360.9 29.5,359.4 33.5,358.0 37.5,356.6 41.5,355.0 45.5,353.4 49.5,351.7 53.5,349.6 57.5,347.2 61.5,344.7 65.5,342.3 69.5,339.9 73.5,337.5 77.5,335.1 81.5,332.7 85.5,330.4 89.5,328.1 93.5,325.6 97.5,323.2 101.5,321.1 105.5,319.5 109.5,318.2 113.5,317.0 117.5,315.7 121.5,314.2 125.5,312.5 129.5,310.0 133.5,307.3 137.5,304.6 141.5,302.3 145.5,300.5 149.5,298.6 153.5,296.9 157.5,295.3 161.5,293.6 165.5,292.4 169.5,292.4 173.5,292.6 177.5,293.3 181.5,294.7 185.5,296.1 189.5,297.6 193.5,299.4 197.5,301.3 201.5,303.3 205.5,304.3 209.5,304.4 213.5,304.5 217.5,305.2 221.5,306.5 225.5,308.2 229.5,310.6 233.5,313.7 237.5,316.9 241.5,320.3 245.5,323.7 249.5,326.7 253.5,329.9 257.5,333.8 261.5,337.4 265.5,340.8 269.5,343.5 273.5,346.1 277.5,348.4 281.5,349.6 285.5,350.5 289.5,351.1 293.5,351.9 297.5,353.1 301.5,354.9 305.5,356.9 309.5,358.9 313.5,361.8 317.5,364.9 321.5,368.2 325.5,371.7 329.5,374.8 333.5,377.0 337.5,379.4 341.5,381.1 345.5,382.5 349.5,383.6 353.5,384.5 357.5,385.5 361.5,387.0 365.5,388.5 369.5,390.2 373.5,391.9 377.5,393.1 381.5,393.7 385.5,394.0 389.5,393.3 393.5,392.5 397.5,391.7 401.5,390.9 405.5,390.2 409.5,389.6 413.5,389.0 417.5,387.8 421.5,386.5 425.5,385.1 429.5,383.8 433.5,382.6 437.5,381.2 441.5,379.7 445.5,377.9 449.5,375.5 453.5,372.9 457.5,369.5 461.5,366.2 465.5,362.8 469.5,359.5 473.5,356.1 477.5,352.5 481.5,348.9 485.5,345.2 489.5,341.6 493.5,338.4 497.5,336.0 501.5,333.7 505.5,331.2 509.5,329.2 513.5,327.2 517.5,325.3 521.5,323.6 525.5,322.1 529.5,320.5 533.5,318.8 537.5,317.2 541.5,315.9 545.5,314.2 549.5,312.0 553.5,309.6 557.5,306.9 561.5,304.0 565.5,301.3 569.5,298.3 573.5,295.2 577.5,292.0 581.5,289.2 585.5,286.8 589.5,284.1 593.5,281.3 597.5,278.2 601.5,275.0 605.5,271.9 609.5,268.8 613.5,265.6 617.5,262.5 621.5,259.8 625.5,257.2 629.5,254.7 633.5,252.6 637.5,250.5 641.5,248.9 645.5,247.5 649.5,246.1 653.5,244.6 657.5,242.8 661.5,240.2 665.5,237.8 669.5,235.3 673.5,231.9 677.5,228.3 681.5,224.5 685.5,221.1 689.5,217.4 693.5,214.5 697.5,212.2 701.5,210.2 705.5,208.4 709.5,206.5 713.5,204.3 717.5,202.4 721.5,201.4 725.5,200.4 729.5,198.7 733.5,196.6 737.5,194.6 741.5,192.6 745.5,190.5 749.5,188.5 753.5,186.4 757.5,183.6 761.5,180.7 765.5,178.2 769.5,176.1 773.5,173.8 777.5,171.2 781.5,168.9 785.5,166.8 789.5,164.7 793.5,162.9 797.5,161.2 801.5,159.4 805.5,157.6 809.5,155.9 813.5,153.9 817.5,152.4 821.5,151.6 825.5,151.6 829.5,151.9 833.5,153.8 837.5,155.9 841.5,158.2 845.5,160.7 849.5,162.9 853.5,164.6 857.5,165.3 861.5,165.7 865.5,164.6 869.5,163.4 873.5,161.8 877.5,159.9 881.5,157.8 885.5,155.0 889.5,152.0 893.5,148.3 897.5,144.3 901.5,140.5 905.5,137.1 909.5,133.8 913.5,130.6 917.5,127.5 921.5,124.5 925.5,121.5 929.5,118.6 933.5,115.7 937.5,112.7 941.5,109.6" fill="none" stroke="#ff0000" stroke-width="1" />
<polyline points="-2.5,376.1 1.5,374.3 5.5,372.5 9.5,370.6 13.5,368.6 17.5,366.6 21.5,364.7 25.5,362.8 29.5,361.3 33.5,359.8 37.5,358.2 41.5,356.7 45.5,355.1 49.5,353.4 53.5,351.4 57.5,349.1 61.5,346.7 65.5,344.4 69.5,342.0 73.5,339.7 77.5,337.4 81.5,335.1 85.5,332.8 89.5,330.5 93.5,328.2 97.5,325.8 101.5,323.7 105.5,322.1 109.5,320.7 113.5,319.4 117.5,317.9 121.5,316.3 125.5,314.7 129.5,312.3 133.5,309.7 137.5,307.1 141.5,304.9 145.5,303.0 149.5,301.1 153.5,299.4 157.5,297.8 161.5,296.1 165.5,294.9 169.5,294.6 173.5,294.6 177.5,294.8 181.5,296.0 185.5,297.1 189.5,298.3 193.5,299.8 197.5,301.4 201.5,303.1 205.5,303.7 209.5,303.8 213.5,303.8 217.5,304.6 221.5,305.8 225.5,307.3 229.5,309.4 233.5,312.2 237.5,315.1 241.5,318.1 245.5,321.2 249.5,324.1 253.5,327.2 257.5,330.8 261.5,334.2 265.5,337.5 269.5,340.1 273.5,342.6 277.5,345.0 281.5,346.4 285.5,347.5 289.5,348.5 293.5,349.6 297.5,351.0 301.5,352.8 305.5,354.9 309.5,356.9 313.5,359.8 317.5,362.7 321.5,365.9 325.5,369.3 329.5,372.3 333.5,374.6 337.5,377.0 341.5,378.7 345.5,380.2 349.5,381.5 353.5,382.6 357.5,383.7 361.5,385.2 365.5,386.7 369.5,388.4 373.5,390.0 377.5,391.3 381.5,392.0 385.5,392.5 389.5,392.1 393.5,391.6 397.5,391.0 401.5,390.3 405.5,389.6 409.5,389.1 413.5,388.6 417.5,387.6 421.5,386.5 425.5,385.4 429.5,384.3 433.5,383.3 437.5,382.0 441.5,380.7 445.5,379.0 449.5,376.8 453.5,374.3 457.5,371.2 461.5,368.2 465.5,365.1 469.5,362.0 473.5,358.8 477.5,355.4 481.5,351.9 485.5,348.4 489.5,344.9 493.5,341.8 497.5,339.5 501.5,337.0 505.5,334.4 509.5,332.4 513.5,330.4 517.5,328.5 521.5,326.6 525.5,324.9 529.5,323.1 533.5,321.3 537.5,319.5 541.5,317.9 545.5,315.9 549.5,313.6 553.5,311.2 557.5,308.6 561.5,305.8 565.5,303.0 569.5,300.1 573.5,297.1 577.5,294.1 581.5,291.3 585.5,288.9 589.5,286.4 593.5,283.7 597.5,280.8 601.5,277.8 605.5,274.8 609.5,271.8 613.5,268.8 617.5,265.8 621.5,263.1 625.5,260.6 629.5,258.2 633.5,256.0 637.5,253.9 641.5,252.1 645.5,250.5 649.5,249.0 653.5,247.4 657.5,245.7 661.5,243.2 665.5,240.8 669.5,238.4 673.5,235.0 677.5,231.5 681.5,228.0 685.5,224.7 689.5,221.3 693.5,218.4 697.5,216.1 701.5,213.8 705.5,211.8 709.5,209.6 713.5,207.3 717.5,205.3 721.5,204.1 725.5,202.8 729.5,201.2 733.5,199.1 737.5,197.1 741.5,195.1 745.5,193.0 749.5,191.0 753.5,188.9 757.5,186.1 761.5,183.2 765.5,180.7 769.5,178.6 773.5,176.5 777.5,174.2 781.5,172.0 785.5,169.9 789.5,167.9 793.5,166.0 797.5,164.1 801.5,162.2 805.5,160.4 809.5,158.5 813.5,156.6 817.5,155.3 821.5,154.4 825.5,154.1 829.5,154.0 833.5,155.4 837.5,157.2 841.5,159.0 845.5,161.0 849.5,162.9 853.5,164.1 857.5,164.9 861.5,165.2 865.5,164.3 869.5,163.4 873.5,162.0 877.5,160.4 881.5,158.5 885.5,155.8 889.5,153.0 893.5,149.6 897.5,145.9 901.5,142.3 905.5,139.2 909.5,136.2 913.5,133.2 917.5,130.3 921.5,127.5 925.5,124.6 929.5,121.8 933.5,119.1 937.5,116.4 941.5,113.6" fill="none" stroke="#ff0000" stroke-width="1" />
<polyline points="-2.5,377.1 1.5,375.3 5.5,373.5 9.5,371.7 13.5,369.8 17.5,367.9 21.5,366.1 25.5,364.3 29.5,362.7 33.5,361.1 37.5,359.6 41.5,358.0 45.5,356.4 49.5,354.8 53.5,352.7 57.5,350.5 61.5,348.2 65.5,345.9 69.5,343.7 73.5,341.4 77.5,339.2 81.5,336.9 85.5,334.7 89.5,332.4 93.5,330.1 97.5,327.9 101.5,325.7 105.5,324.2 109.5,322.7 113.5,321.2 117.5,319.7 121.5,318.1 125.5,316.4 129.5,314.1 133.5,311.6 137.5,309.1 141.5,307.0 145.5,305.1 149.5,303.1 153.5,301.3 157.5,299.7 161.5,298.1 165.5,296.8 169.5,296.4 173.5,296.2 177.5,296.1 181.5,297.0 185.5,298.0 189.5,298.9 193.5,300.3 197.5,301.6 201.5,303.0 205.5,303.5 209.5,303.5 213.5,303.5 217.5,304.3 221.5,305.4 225.5,306.7 229.5,308.6 233.5,311.2 237.5,313.8 241.5,316.6 245.5,319.5 249.5,322.4 253.5,325.3 257.5,328.6 261.5,331.9 265.5,335.2 269.5,337.7 273.5,340.1 277.5,342.5 281.5,344.1 285.5,345.3 289.5,346.5 293.5,347.9 297.5,349.4 301.5,351.3 305.5,353.3 309.5,355.4 313.5,358.2 317.5,361.0 321.5,364.2 325.5,367.4 329.5,370.4 333.5,372.8 337.5,375.1 341.5,376.9 345.5,378.4 349.5,379.8 353.5,381.0 357.5,382.2 361.5,383.7 365.5,385.3 369.5,386.9 373.5,388.5 377.5,389.9 381.5,390.6 385.5,391.3 389.5,391.1 393.5,390.8 397.5,390.3 401.5,389.6 405.5,389.0 409.5,388.6 413.5,388.1 417.5,387.4 421.5,386.4 425.5,385.5 429.5,384.6 433.5,383.7 437.5,382.6 441.5,381.3 445.5,379.8 449.5,377.6 453.5,375.3 457.5,372.4 461.5,369.6 465.5,366.6 469.5,363.7 473.5,360.7 477.5,357.4 481.5,354.1 485.5,350.7 489.5,347.4 493.5,344.4 497.5,342.0 501.5,339.5 505.5,336.7 509.5,334.8 513.5,332.8 517.5,330.9 521.5,328.9 525.5,327.0 529.5,325.1 533.5,323.2 537.5,321.2 541.5,319.4 545.5,317.3 549.5,314.9 553.5,312.5 557.5,309.9 561.5,307.1 565.5,304.3 569.5,301.5 573.5,298.6 577.5,295.7 581.5,292.9 585.5,290.5 589.5,288.1 593.5,285.6 597.5,282.8 601.5,279.9 605.5,277.0 609.5,274.1 613.5,271.2 617.5,268.3 621.5,265.7 625.5,263.3 629.5,260.9 633.5,258.6 637.5,256.6 641.5,254.6 645.5,252.8 649.5,251.3 653.5,249.7 657.5,248.0 661.5,245.6 665.5,243.2 669.5,240.8 673.5,237.5 677.5,234.1 681.5,230.7 685.5,227.5 689.5,224.3 693.5,221.4 697.5,219.0 701.5,216.7 705.5,214.4 709.5,212.1 713.5,209.7 717.5,207.7 721.5,206.2 725.5,204.8 729.5,203.1 733.5,201.1 737.5,199.1 741.5,197.1 745.5,195.1 749.5,193.1 753.5,190.9 757.5,188.1 761.5,185.2 765.5,182.7 769.5,180.7 773.5,178.6 777.5,176.5 781.5,174.4 785.5,172.4 789.5,170.4 793.5,168.4 797.5,166.5 801.5,164.5 805.5,162.5 809.5,160.6 813.5,158.8 817.5,157.5 821.5,156.6 825.5,156.1 829.5,155.7 833.5,156.9 837.5,158.3 841.5,159.8 845.5,161.4 849.5,163.0 853.5,164.0 857.5,164.7 861.5,165.1 865.5,164.4 869.5,163.6 873.5,162.4 877.5,160.9 881.5,159.2 885.5,156.5 889.5,153.8 893.5,150.6 897.5,147.1 901.5,143.7 905.5,140.8 909.5,138.0 913.5,135.2 917.5,132.5 921.5,129.7 925.5,127.0 929.5,124.3 933.5,121.7 937.5,119.2 941.5,116.7" fill="none" stroke="#ff0000" stroke-width="1" />
<polyline points="-2.5,377.9 1.5,376.1 5.5,374.3 9.5,372.5 13.5,370.7 17.5,368.9 21.5,367.1 25.5,365.3 29.5,363.7 33.5,362.1 37.5,360.5 41.5,358.9 45.5,357.3 49.5,355.7 53.5,353.7 57.5,351.5 61.5,349.3 65.5,347.1 69.5,344.9 73.5,342.7 77.5,340.5 81.5,338.2 85.5,336.0 89.5,333.8 93.5,331.6 97.5,329.3 101.5,327.2 105.5,325.7 109.5,324.1 113.5,322.6 117.5,321.0 121.5,319.3 125.5,317.7 129.5,315.5 133.5,313.0 137.5,310.6 141.5,308.5 145.5,306.5 149.5,304.6 153.5,302.8 157.5,301.2 161.5,299.5 165.5,298.2 169.5,297.8 173.5,297.4 177.5,297.1 181.5,297.9 185.5,298.7 189.5,299.5 193.5,300.7 197.5,301.9 201.5,303.1 205.5,303.4 209.5,303.4 213.5,303.4 217.5,304.1 221.5,305.2 225.5,306.4 229.5,308.1 233.5,310.6 237.5,313.0 241.5,315.6 245.5,318.4 249.5,321.2 253.5,324.0 257.5,327.2 261.5,330.4 265.5,333.5 269.5,336.0 273.5,338.4 277.5,340.8 281.5,342.4 285.5,343.8 289.5,345.2 293.5,346.7 297.5,348.3 301.5,350.1 305.5,352.2 309.5,354.3 313.5,357.1 317.5,359.8 321.5,362.9 325.5,366.1 329.5,369.1 333.5,371.4 337.5,373.8 341.5,375.5 345.5,377.2 349.5,378.6 353.5,379.9 357.5,381.2 361.5,382.7 365.5,384.2 369.5,385.8 373.5,387.4 377.5,388.8 381.5,389.6 385.5,390.4 389.5,390.3 393.5,390.1 397.5,389.7 401.5,389.2 405.5,388.6 409.5,388.2 413.5,387.8 417.5,387.1 421.5,386.3 425.5,385.5 429.5,384.7 433.5,384.0 437.5,382.9 441.5,381.7 445.5,380.2 449.5,378.1 453.5,376.0 457.5,373.2 461.5,370.5 465.5,367.7 469.5,364.9 473.5,362.0 477.5,358.8 481.5,355.6 485.5,352.3 489.5,349.1 493.5,346.1 497.5,343.8 501.5,341.2 505.5,338.4 509.5,336.4 513.5,334.5 517.5,332.5 521.5,330.6 525.5,328.6 529.5,326.6 533.5,324.5 537.5,322.5 541.5,320.5 545.5,318.2 549.5,315.8 553.5,313.4 557.5,310.9 561.5,308.1 565.5,305.3 569.5,302.5 573.5,299.6 577.5,296.8 581.5,294.0 585.5,291.7 589.5,289.3 593.5,287.0 597.5,284.2 601.5,281.4 605.5,278.6 609.5,275.8 613.5,272.9 617.5,270.1 621.5,267.5 625.5,265.2 629.5,262.8 633.5,260.6 637.5,258.5 641.5,256.4 645.5,254.5 649.5,253.0 653.5,251.4 657.5,249.7 661.5,247.3 665.5,244.9 669.5,242.6 673.5,239.3 677.5,236.0 681.5,232.7 685.5,229.6 689.5,226.5 693.5,223.7 697.5,221.3 701.5,218.8 705.5,216.4 709.5,214.0 713.5,211.5 717.5,209.4 721.5,207.9 725.5,206.3 729.5,204.7 733.5,202.7 737.5,200.7 741.5,198.7 745.5,196.7 749.5,194.7 753.5,192.4 757.5,189.6 761.5,186.8 765.5,184.2 769.5,182.2 773.5,180.2 777.5,178.2 781.5,176.2 785.5,174.2 789.5,172.2 793.5,170.2 797.5,168.2 801.5,166.2 805.5,164.2 809.5,162.2 813.5,160.4 817.5,159.2 821.5,158.3 825.5,157.7 829.5,157.1 833.5,158.1 837.5,159.2 841.5,160.5 845.5,161.9 849.5,163.3 853.5,164.1 857.5,164.8 861.5,165.1 865.5,164.5 869.5,163.8 873.5,162.7 877.5,161.3 881.5,159.7 885.5,157.1 889.5,154.5 893.5,151.4 897.5,148.0 901.5,144.7 905.5,142.0 909.5,139.3 913.5,136.6 917.5,134.0 921.5,131.4 925.5,128.7 929.5,126.1 933.5,123.6 937.5,121.2 941.5,118.9" fill="none" stroke="#191970" stroke-width="5.5" stroke-linejoin="round" stroke-linecap="butt"/>
<line x1="0.0" y1="412.0" x2="1020.0" y2="0.0" stroke="#000" stroke-width="2.4" />
<line x1="140.5" y1="257.0" x2="496.5" y2="585.0" stroke="#000" stroke-width="2.4" />
<line x1="487.0" y1="280.0" x2="815.0" y2="585.0" stroke="#000" stroke-width="2.4" />
<line x1="689.5" y1="150.0" x2="1087.0" y2="517.0" stroke="#000" stroke-width="2.4" />
<line x1="820.8" y1="124.0" x2="1087.0" y2="370.6" stroke="#000" stroke-width="2.4" />
<line x1="846.0" y1="268.0" x2="1087.0" y2="172.0" stroke="#000" stroke-width="2.4" />
<line x1="373.5" y1="408.0" x2="852.5" y2="0.0" stroke="#000" stroke-width="2.4" />
<line x1="820.8" y1="125.3" x2="967.0" y2="0.0" stroke="#000" stroke-width="2.4" />
<line x1="705.4" y1="244.1" x2="821.0" y2="125.0" stroke="#000" stroke-width="2.4" />
<line x1="841.4" y1="262.0" x2="945.4" y2="0.0" stroke="#000" stroke-width="2.0" />
<line x1="649.0" y1="243.0" x2="689.5" y2="150.0" stroke="#000" stroke-width="2.0" />
<line x1="0.0" y1="445.6" x2="1087.7" y2="2.4" stroke="#000" stroke-width="1" />
<line x1="373.5" y1="419.4" x2="1087.0" y2="131.0" stroke="#000" stroke-width="1" />
<line x1="213.8" y1="295.3" x2="526.5" y2="585.0" stroke="#000" stroke-width="1" />
<line x1="641.0" y1="247.0" x2="1001.0" y2="585.0" stroke="#000" stroke-width="1" />
<line x1="817.5" y1="110.0" x2="1087.0" y2="357.7" stroke="#000" stroke-width="1" />
<line x1="924.0" y1="68.7" x2="1087.0" y2="219.0" stroke="#000" stroke-width="1" />
<line x1="373.5" y1="419.4" x2="866.5" y2="0.0" stroke="#000" stroke-width="1" />
<line x1="265.5" y1="407.6" x2="425.0" y2="0.0" stroke="#000" stroke-width="1" />
<line x1="689.5" y1="150.0" x2="745.0" y2="0.0" stroke="#000" stroke-width="1" />
<line x1="833.0" y1="141.2" x2="986.5" y2="0.0" stroke="#000" stroke-width="1" />
<line x1="846.0" y1="270.0" x2="951.8" y2="0.0" stroke="#000" stroke-width="1" />
<polyline points="0.0,367.0 97.5,288.0 113.5,318.0 140.5,257.0 257.1,410.3 293.6,339.0 325.8,427.0 485.5,280.0" fill="none" stroke="#ff0000" stroke-width="2.0" />
<polyline points="541.5,329.0 625.5,212.0 641.3,249.0 631.0,227.5" fill="none" stroke="#ff0000" stroke-width="1.5" />
<polyline points="705.4,244.1 817.4,109.5" fill="none" stroke="#ff0000" stroke-width="1.8" />
<polyline points="819.0,112.0 845.3,269.5 941.5,40.0" fill="none" stroke="#ff0000" stroke-width="1.8" />
<g shape-rendering="crispEdges">
<line x1="1.5" y1="352.0" x2="1.5" y2="368.0" stroke="#8b0000" stroke-width="1"/>
<rect x="0.5" y="358.5" width="2" height="4.00" fill="#ff0000" stroke="#8b0000" stroke-width="1"/>
<line x1="5.5" y1="344.3" x2="5.5" y2="363.0" stroke="#8b0000" stroke-width="1"/>
<rect x="4.5" y="348.5" width="2" height="10.00" fill="#ff0000" stroke="#8b0000" stroke-width="1"/>
<line x1="9.5" y1="333.7" x2="9.5" y2="352.1" stroke="#8b0000" stroke-width="1"/>
<rect x="8.5" y="335.5" width="2" height="13.00" fill="#ff0000" stroke="#8b0000" stroke-width="1"/>
<line x1="13.5" y1="328.4" x2="13.5" y2="337.7" stroke="#8b0000" stroke-width="1"/>
<rect x="12.5" y="330.5" width="2" height="4.00" fill="#ff0000" stroke="#8b0000" stroke-width="1"/>
<line x1="17.5" y1="329.3" x2="17.5" y2="338.5" stroke="#2f4f4f" stroke-width="1"/>
<rect x="16.5" y="331.5" width="2" height="2.00" fill="#90ee90" stroke="#2f4f4f" stroke-width="1"/>
<line x1="21.5" y1="329.0" x2="21.5" y2="337.7" stroke="#2f4f4f" stroke-width="1"/>
<rect x="20.5" y="331.5" width="2" height="2.00" fill="#90ee90" stroke="#2f4f4f" stroke-width="1"/>
<line x1="25.5" y1="332.3" x2="25.5" y2="347.8" stroke="#2f4f4f" stroke-width="1"/>
<rect x="24.5" y="334.5" width="2" height="3.00" fill="#90ee90" stroke="#2f4f4f" stroke-width="1"/>
<line x1="29.5" y1="336.0" x2="29.5" y2="360.5" stroke="#2f4f4f" stroke-width="1"/>
<rect x="28.5" y="338.5" width="2" height="9.00" fill="#90ee90" stroke="#2f4f4f" stroke-width="1"/>
<line x1="33.5" y1="342.0" x2="33.5" y2="358.8" stroke="#8b0000" stroke-width="1"/>
<rect x="32.5" y="344.5" width="2" height="2.00" fill="#ff0000" stroke="#8b0000" stroke-width="1"/>
<line x1="37.5" y1="336.3" x2="37.5" y2="351.3" stroke="#8b0000" stroke-width="1"/>
<rect x="36.5" y="338.5" width="2" height="9.00" fill="#ff0000" stroke="#8b0000" stroke-width="1"/>
<line x1="41.5" y1="333.4" x2="41.5" y2="345.3" stroke="#8b0000" stroke-width="1"/>
<rect x="40.5" y="337.5" width="2" height="1.00" fill="#ff0000" stroke="#8b0000" stroke-width="1"/>
<line x1="45.5" y1="329.5" x2="45.5" y2="339.4" stroke="#8b0000" stroke-width="1"/>
<rect x="44.5" y="331.5" width="2" height="6.00" fill="#ff0000" stroke="#8b0000" stroke-width="1"/>
<line x1="49.5" y1="325.0" x2="49.5" y2="335.2" stroke="#8b0000" stroke-width="1"/>
<rect x="48.5" y="329.5" width="2" height="3.00" fill="#ff0000" stroke="#8b0000" stroke-width="1"/>
<line x1="53.5" y1="319.2" x2="53.5" y2="333.2" stroke="#8b0000" stroke-width="1"/>
<rect x="52.5" y="322.5" width="2" height="8.00" fill="#ff0000" stroke="#8b0000" stroke-width="1"/>
<line x1="57.5" y1="309.0" x2="57.5" y2="323.9" stroke="#8b0000" stroke-width="1"/>
<rect x="56.5" y="312.5" width="2" height="9.00" fill="#ff0000" stroke="#8b0000" stroke-width="1"/>
<line x1="61.5" y1="307.0" x2="61.5" y2="315.8" stroke="#8b0000" stroke-width="1"/>
<rect x="60.5" y="308.5" width="2" height="4.00" fill="#ff0000" stroke="#8b0000" stroke-width="1"/>
<line x1="65.5" y1="304.0" x2="65.5" y2="314.6" stroke="#2f4f4f" stroke-width="1"/>
<rect x="64.5" y="308.5" width="2" height="4.00" fill="#90ee90" stroke="#2f4f4f" stroke-width="1"/>
<line x1="69.5" y1="299.2" x2="69.5" y2="319.2" stroke="#8b0000" stroke-width="1"/>
<rect x="68.5" y="301.5" width="2" height="12.00" fill="#ff0000" stroke="#8b0000" stroke-width="1"/>
<line x1="73.5" y1="297.7" x2="73.5" y2="309.9" stroke="#2f4f4f" stroke-width="1"/>
<rect x="72.5" y="301.5" width="2" height="4.00" fill="#90ee90" stroke="#2f4f4f" stroke-width="1"/>
<line x1="77.5" y1="298.9" x2="77.5" y2="308.2" stroke="#8b0000" stroke-width="1"/>
<rect x="76.5" y="301.5" width="2" height="4.00" fill="#ff0000" stroke="#8b0000" stroke-width="1"/>
<line x1="81.5" y1="299.8" x2="81.5" y2="305.7" stroke="#8b0000" stroke-width="1"/>
<rect x="80.5" y="301.5" width="2" height="1.00" fill="#ff0000" stroke="#8b0000" stroke-width="1"/>
<line x1="85.5" y1="296.9" x2="85.5" y2="312.4" stroke="#2f4f4f" stroke-width="1"/>
<rect x="84.5" y="301.5" width="2" height="0.01" fill="#90ee90" stroke="#2f4f4f" stroke-width="1"/>
<line x1="89.5" y1="291.1" x2="89.5" y2="305.0" stroke="#8b0000" stroke-width="1"/>
<rect x="88.5" y="292.5" width="2" height="9.00" fill="#ff0000" stroke="#8b0000" stroke-width="1"/>
<line x1="93.5" y1="282.5" x2="93.5" y2="293.3" stroke="#8b0000" stroke-width="1"/>
<rect x="92.5" y="286.5" width="2" height="5.00" fill="#ff0000" stroke="#8b0000" stroke-width="1"/>
<line x1="97.5" y1="282.3" x2="97.5" y2="293.6" stroke="#2f4f4f" stroke-width="1"/>
<rect x="96.5" y="286.5" width="2" height="5.00" fill="#90ee90" stroke="#2f4f4f" stroke-width="1"/>
<line x1="101.5" y1="289.4" x2="101.5" y2="299.1" stroke="#2f4f4f" stroke-width="1"/>
<rect x="100.5" y="292.5" width="2" height="3.00" fill="#90ee90" stroke="#2f4f4f" stroke-width="1"/>
<line x1="105.5" y1="292.6" x2="105.5" y2="309.0" stroke="#8b0000" stroke-width="1"/>
<rect x="104.5" y="296.5" width="2" height="0.01" fill="#ff0000" stroke="#8b0000" stroke-width="1"/>
<line x1="109.5" y1="293.0" x2="109.5" y2="316.6" stroke="#2f4f4f" stroke-width="1"/>
<rect x="108.5" y="295.5" width="2" height="15.00" fill="#90ee90" stroke="#2f4f4f" stroke-width="1"/>
<line x1="113.5" y1="304.0" x2="113.5" y2="320.8" stroke="#8b0000" stroke-width="1"/>
<rect x="112.5" y="309.5" width="2" height="0.01" fill="#ff0000" stroke="#8b0000" stroke-width="1"/>
<line x1="117.5" y1="298.7" x2="117.5" y2="315.0" stroke="#8b0000" stroke-width="1"/>
<rect x="116.5" y="301.5" width="2" height="8.00" fill="#ff0000" stroke="#8b0000" stroke-width="1"/>
<line x1="121.5" y1="290.5" x2="121.5" y2="302.9" stroke="#8b0000" stroke-width="1"/>
<rect x="120.5" y="295.5" width="2" height="5.00" fill="#ff0000" stroke="#8b0000" stroke-width="1"/>
<line x1="125.5" y1="278.5" x2="125.5" y2="297.8" stroke="#8b0000" stroke-width="1"/>
<rect x="124.5" y="281.5" width="2" height="14.00" fill="#ff0000" stroke="#8b0000" stroke-width="1"/>
<line x1="129.5" y1="265.2" x2="129.5" y2="283.4" stroke="#8b0000" stroke-width="1"/>
<rect x="128.5" y="268.5" width="2" height="11.00" fill="#ff0000" stroke="#8b0000" stroke-width="1"/>
<line x1="133.5" y1="266.9" x2="133.5" y2="280.4" stroke="#2f4f4f" stroke-width="1"/>
<rect x="132.5" y="269.5" width="2" height="3.00" fill="#90ee90" stroke="#2f4f4f" stroke-width="1"/>
<line x1="137.5" y1="258.7" x2="137.5" y2="273.4" stroke="#8b0000" stroke-width="1"/>
<rect x="136.5" y="261.5" width="2" height="9.00" fill="#ff0000" stroke="#8b0000" stroke-width="1"/>
<line x1="141.5" y1="257.3" x2="141.5" y2="277.2" stroke="#2f4f4f" stroke-width="1"/>
<rect x="140.5" y="260.5" width="2" height="15.00" fill="#90ee90" stroke="#2f4f4f" stroke-width="1"/>
<line x1="145.5" y1="265.2" x2="145.5" y2="289.6" stroke="#2f4f4f" stroke-width="1"/>
<rect x="144.5" y="276.5" width="2" height="8.00" fill="#90ee90" stroke="#2f4f4f" stroke-width="1"/>
<line x1="149.5" y1="265.7" x2="149.5" y2="288.8" stroke="#8b0000" stroke-width="1"/>
<rect x="148.5" y="269.5" width="2" height="15.00" fill="#ff0000" stroke="#8b0000" stroke-width="1"/>
<line x1="153.5" y1="266.9" x2="153.5" y2="286.3" stroke="#2f4f4f" stroke-width="1"/>
<rect x="152.5" y="269.5" width="2" height="12.00" fill="#90ee90" stroke="#2f4f4f" stroke-width="1"/>
<line x1="157.5" y1="267.7" x2="157.5" y2="291.3" stroke="#8b0000" stroke-width="1"/>
<rect x="156.5" y="269.5" width="2" height="13.00" fill="#ff0000" stroke="#8b0000" stroke-width="1"/>
<line x1="161.5" y1="259.0" x2="161.5" y2="271.9" stroke="#8b0000" stroke-width="1"/>
<rect x="160.5" y="267.5" width="2" height="1.00" fill="#ff0000" stroke="#8b0000" stroke-width="1"/>
<line x1="165.5" y1="262.6" x2="165.5" y2="292.1" stroke="#2f4f4f" stroke-width="1"/>
<rect x="164.5" y="267.5" width="2" height="21.00" fill="#90ee90" stroke="#2f4f4f" stroke-width="1"/>
<line x1="169.5" y1="286.5" x2="169.5" y2="295.5" stroke="#8b0000" stroke-width="1"/>
<rect x="168.5" y="289.5" width="2" height="4.00" fill="#ff0000" stroke="#8b0000" stroke-width="1"/>
<line x1="173.5" y1="285.5" x2="173.5" y2="321.9" stroke="#2f4f4f" stroke-width="1"/>
<rect x="172.5" y="288.5" width="2" height="32.00" fill="#90ee90" stroke="#2f4f4f" stroke-width="1"/>
<line x1="177.5" y1="310.0" x2="177.5" y2="340.0" stroke="#8b0000" stroke-width="1"/>
<rect x="176.5" y="319.5" width="2" height="1.00" fill="#ff0000" stroke="#8b0000" stroke-width="1"/>
<line x1="181.5" y1="297.0" x2="181.5" y2="322.0" stroke="#8b0000" stroke-width="1"/>
<rect x="180.5" y="312.5" width="2" height="8.00" fill="#ff0000" stroke="#8b0000" stroke-width="1"/>
<line x1="185.5" y1="310.1" x2="185.5" y2="326.0" stroke="#2f4f4f" stroke-width="1"/>
<rect x="184.5" y="312.5" width="2" height="12.00" fill="#90ee90" stroke="#2f4f4f" stroke-width="1"/>
<line x1="189.5" y1="321.4" x2="189.5" y2="334.4" stroke="#2f4f4f" stroke-width="1"/>
<rect x="188.5" y="324.5" width="2" height="7.00" fill="#90ee90" stroke="#2f4f4f" stroke-width="1"/>
<line x1="193.5" y1="325.6" x2="193.5" y2="357.0" stroke="#8b0000" stroke-width="1"/>
<rect x="192.5" y="327.5" width="2" height="4.00" fill="#ff0000" stroke="#8b0000" stroke-width="1"/>
<line x1="197.5" y1="320.6" x2="197.5" y2="339.9" stroke="#2f4f4f" stroke-width="1"/>
<rect x="196.5" y="330.5" width="2" height="6.00" fill="#90ee90" stroke="#2f4f4f" stroke-width="1"/>
<line x1="201.5" y1="335.8" x2="201.5" y2="355.4" stroke="#2f4f4f" stroke-width="1"/>
<rect x="200.5" y="337.5" width="2" height="12.00" fill="#90ee90" stroke="#2f4f4f" stroke-width="1"/>
<line x1="205.5" y1="321.5" x2="205.5" y2="358.0" stroke="#8b0000" stroke-width="1"/>
<rect x="204.5" y="325.5" width="2" height="20.00" fill="#ff0000" stroke="#8b0000" stroke-width="1"/>
<line x1="209.5" y1="308.3" x2="209.5" y2="323.9" stroke="#8b0000" stroke-width="1"/>
<rect x="208.5" y="310.5" width="2" height="10.00" fill="#ff0000" stroke="#8b0000" stroke-width="1"/>
<line x1="213.5" y1="295.5" x2="213.5" y2="313.9" stroke="#8b0000" stroke-width="1"/>
<rect x="212.5" y="308.5" width="2" height="2.00" fill="#ff0000" stroke="#8b0000" stroke-width="1"/>
<line x1="217.5" y1="301.2" x2="217.5" y2="323.9" stroke="#2f4f4f" stroke-width="1"/>
<rect x="216.5" y="308.5" width="2" height="14.00" fill="#90ee90" stroke="#2f4f4f" stroke-width="1"/>
<line x1="221.5" y1="319.1" x2="221.5" y2="336.0" stroke="#2f4f4f" stroke-width="1"/>
<rect x="220.5" y="322.5" width="2" height="11.00" fill="#90ee90" stroke="#2f4f4f" stroke-width="1"/>
<line x1="225.5" y1="330.0" x2="225.5" y2="350.7" stroke="#2f4f4f" stroke-width="1"/>
<rect x="224.5" y="334.5" width="2" height="14.00" fill="#90ee90" stroke="#2f4f4f" stroke-width="1"/>
<line x1="229.5" y1="343.0" x2="229.5" y2="366.2" stroke="#2f4f4f" stroke-width="1"/>
<rect x="228.5" y="349.5" width="2" height="13.00" fill="#90ee90" stroke="#2f4f4f" stroke-width="1"/>
<line x1="233.5" y1="356.5" x2="233.5" y2="371.8" stroke="#2f4f4f" stroke-width="1"/>
<rect x="232.5" y="360.5" width="2" height="6.00" fill="#90ee90" stroke="#2f4f4f" stroke-width="1"/>
<line x1="237.5" y1="365.5" x2="237.5" y2="393.3" stroke="#2f4f4f" stroke-width="1"/>
<rect x="236.5" y="369.5" width="2" height="6.00" fill="#90ee90" stroke="#2f4f4f" stroke-width="1"/>
<line x1="241.5" y1="369.4" x2="241.5" y2="398.4" stroke="#2f4f4f" stroke-width="1"/>
<rect x="240.5" y="373.5" width="2" height="17.00" fill="#90ee90" stroke="#2f4f4f" stroke-width="1"/>
<line x1="245.5" y1="364.0" x2="245.5" y2="393.1" stroke="#8b0000" stroke-width="1"/>
<rect x="244.5" y="366.5" width="2" height="22.00" fill="#ff0000" stroke="#8b0000" stroke-width="1"/>
<line x1="249.5" y1="359.5" x2="249.5" y2="375.0" stroke="#2f4f4f" stroke-width="1"/>
<rect x="248.5" y="366.5" width="2" height="4.00" fill="#90ee90" stroke="#2f4f4f" stroke-width="1"/>
<line x1="253.5" y1="366.2" x2="253.5" y2="393.1" stroke="#2f4f4f" stroke-width="1"/>
<rect x="252.5" y="369.5" width="2" height="19.00" fill="#90ee90" stroke="#2f4f4f" stroke-width="1"/>
<line x1="257.5" y1="387.5" x2="257.5" y2="410.0" stroke="#2f4f4f" stroke-width="1"/>
<rect x="256.5" y="391.5" width="2" height="14.00" fill="#90ee90" stroke="#2f4f4f" stroke-width="1"/>
<line x1="261.5" y1="380.5" x2="261.5" y2="407.9" stroke="#8b0000" stroke-width="1"/>
<rect x="260.5" y="382.5" width="2" height="21.00" fill="#ff0000" stroke="#8b0000" stroke-width="1"/>
<line x1="265.5" y1="378.0" x2="265.5" y2="400.1" stroke="#2f4f4f" stroke-width="1"/>
<rect x="264.5" y="382.5" width="2" height="13.00" fill="#90ee90" stroke="#2f4f4f" stroke-width="1"/>
<line x1="269.5" y1="379.8" x2="269.5" y2="402.5" stroke="#8b0000" stroke-width="1"/>
<rect x="268.5" y="381.5" width="2" height="14.00" fill="#ff0000" stroke="#8b0000" stroke-width="1"/>
<line x1="273.5" y1="380.9" x2="273.5" y2="396.6" stroke="#2f4f4f" stroke-width="1"/>
<rect x="272.5" y="383.5" width="2" height="9.00" fill="#90ee90" stroke="#2f4f4f" stroke-width="1"/>
<line x1="277.5" y1="372.3" x2="277.5" y2="388.7" stroke="#8b0000" stroke-width="1"/>
<rect x="276.5" y="374.5" width="2" height="10.00" fill="#ff0000" stroke="#8b0000" stroke-width="1"/>
<line x1="281.5" y1="357.7" x2="281.5" y2="383.0" stroke="#8b0000" stroke-width="1"/>
<rect x="280.5" y="360.5" width="2" height="13.00" fill="#ff0000" stroke="#8b0000" stroke-width="1"/>
<line x1="285.5" y1="350.0" x2="285.5" y2="360.9" stroke="#8b0000" stroke-width="1"/>
<rect x="284.5" y="353.5" width="2" height="6.00" fill="#ff0000" stroke="#8b0000" stroke-width="1"/>
<line x1="289.5" y1="340.6" x2="289.5" y2="356.1" stroke="#8b0000" stroke-width="1"/>
<rect x="288.5" y="343.5" width="2" height="8.00" fill="#ff0000" stroke="#8b0000" stroke-width="1"/>
<line x1="293.5" y1="339.0" x2="293.5" y2="352.9" stroke="#2f4f4f" stroke-width="1"/>
<rect x="292.5" y="342.5" width="2" height="8.00" fill="#90ee90" stroke="#2f4f4f" stroke-width="1"/>
<line x1="297.5" y1="350.5" x2="297.5" y2="373.3" stroke="#2f4f4f" stroke-width="1"/>
<rect x="296.5" y="352.5" width="2" height="18.00" fill="#90ee90" stroke="#2f4f4f" stroke-width="1"/>
<line x1="301.5" y1="370.2" x2="301.5" y2="384.9" stroke="#2f4f4f" stroke-width="1"/>
<rect x="300.5" y="372.5" width="2" height="11.00" fill="#90ee90" stroke="#2f4f4f" stroke-width="1"/>
<line x1="305.5" y1="367.8" x2="305.5" y2="388.2" stroke="#8b0000" stroke-width="1"/>
<rect x="304.5" y="369.5" width="2" height="17.00" fill="#ff0000" stroke="#8b0000" stroke-width="1"/>
<line x1="309.5" y1="360.6" x2="309.5" y2="392.4" stroke="#2f4f4f" stroke-width="1"/>
<rect x="308.5" y="367.5" width="2" height="21.00" fill="#90ee90" stroke="#2f4f4f" stroke-width="1"/>
<line x1="313.5" y1="386.6" x2="313.5" y2="408.7" stroke="#2f4f4f" stroke-width="1"/>
<rect x="312.5" y="390.5" width="2" height="14.00" fill="#90ee90" stroke="#2f4f4f" stroke-width="1"/>
<line x1="317.5" y1="401.5" x2="317.5" y2="415.1" stroke="#2f4f4f" stroke-width="1"/>
<rect x="316.5" y="403.5" width="2" height="8.00" fill="#90ee90" stroke="#2f4f4f" stroke-width="1"/>
<line x1="321.5" y1="394.0" x2="321.5" y2="419.1" stroke="#8b0000" stroke-width="1"/>
<rect x="320.5" y="395.5" width="2" height="20.00" fill="#ff0000" stroke="#8b0000" stroke-width="1"/>
<line x1="325.5" y1="407.9" x2="325.5" y2="427.0" stroke="#2f4f4f" stroke-width="1"/>
<rect x="324.5" y="411.5" width="2" height="10.00" fill="#90ee90" stroke="#2f4f4f" stroke-width="1"/>
<line x1="329.5" y1="400.9" x2="329.5" y2="424.0" stroke="#8b0000" stroke-width="1"/>
<rect x="328.5" y="403.5" width="2" height="16.00" fill="#ff0000" stroke="#8b0000" stroke-width="1"/>
<line x1="333.5" y1="391.7" x2="333.5" y2="405.7" stroke="#8b0000" stroke-width="1"/>
<rect x="332.5" y="394.5" width="2" height="8.00" fill="#ff0000" stroke="#8b0000" stroke-width="1"/>
<line x1="337.5" y1="393.7" x2="337.5" y2="418.8" stroke="#2f4f4f" stroke-width="1"/>
<rect x="336.5" y="397.5" width="2" height="20.00" fill="#90ee90" stroke="#2f4f4f" stroke-width="1"/>
<line x1="341.5" y1="385.6" x2="341.5" y2="421.4" stroke="#8b0000" stroke-width="1"/>
<rect x="340.5" y="390.5" width="2" height="27.00" fill="#ff0000" stroke="#8b0000" stroke-width="1"/>
<line x1="345.5" y1="381.8" x2="345.5" y2="396.6" stroke="#8b0000" stroke-width="1"/>
<rect x="344.5" y="390.5" width="2" height="3.00" fill="#ff0000" stroke="#8b0000" stroke-width="1"/>
<line x1="349.5" y1="388.1" x2="349.5" y2="395.2" stroke="#2f4f4f" stroke-width="1"/>
<rect x="348.5" y="392.5" width="2" height="0.01" fill="#90ee90" stroke="#2f4f4f" stroke-width="1"/>
<line x1="353.5" y1="380.7" x2="353.5" y2="395.1" stroke="#8b0000" stroke-width="1"/>
<rect x="352.5" y="385.5" width="2" height="6.00" fill="#ff0000" stroke="#8b0000" stroke-width="1"/>
<line x1="357.5" y1="382.6" x2="357.5" y2="400.6" stroke="#2f4f4f" stroke-width="1"/>
<rect x="356.5" y="385.5" width="2" height="11.00" fill="#90ee90" stroke="#2f4f4f" stroke-width="1"/>
<line x1="361.5" y1="378.0" x2="361.5" y2="409.2" stroke="#2f4f4f" stroke-width="1"/>
<rect x="360.5" y="395.5" width="2" height="11.00" fill="#90ee90" stroke="#2f4f4f" stroke-width="1"/>
<line x1="365.5" y1="402.5" x2="365.5" y2="415.9" stroke="#2f4f4f" stroke-width="1"/>
<rect x="364.5" y="404.5" width="2" height="8.00" fill="#90ee90" stroke="#2f4f4f" stroke-width="1"/>
<line x1="369.5" y1="410.6" x2="369.5" y2="417.2" stroke="#2f4f4f" stroke-width="1"/>
<rect x="368.5" y="412.5" width="2" height="1.00" fill="#90ee90" stroke="#2f4f4f" stroke-width="1"/>
<line x1="373.5" y1="409.9" x2="373.5" y2="420.0" stroke="#2f4f4f" stroke-width="1"/>
<rect x="372.5" y="412.5" width="2" height="1.00" fill="#90ee90" stroke="#2f4f4f" stroke-width="1"/>
<line x1="377.5" y1="394.4" x2="377.5" y2="414.8" stroke="#8b0000" stroke-width="1"/>
<rect x="376.5" y="397.5" width="2" height="13.00" fill="#ff0000" stroke="#8b0000" stroke-width="1"/>
<line x1="381.5" y1="391.6" x2="381.5" y2="402.2" stroke="#8b0000" stroke-width="1"/>
<rect x="380.5" y="394.5" width="2" height="4.00" fill="#ff0000" stroke="#8b0000" stroke-width="1"/>
<line x1="385.5" y1="378.0" x2="385.5" y2="394.4" stroke="#8b0000" stroke-width="1"/>
<rect x="384.5" y="380.5" width="2" height="12.00" fill="#ff0000" stroke="#8b0000" stroke-width="1"/>
<line x1="389.5" y1="359.7" x2="389.5" y2="382.0" stroke="#8b0000" stroke-width="1"/>
<rect x="388.5" y="369.5" width="2" height="11.00" fill="#ff0000" stroke="#8b0000" stroke-width="1"/>
<line x1="393.5" y1="368.9" x2="393.5" y2="380.8" stroke="#2f4f4f" stroke-width="1"/>
<rect x="392.5" y="370.5" width="2" height="7.00" fill="#90ee90" stroke="#2f4f4f" stroke-width="1"/>
<line x1="397.5" y1="363.5" x2="397.5" y2="379.3" stroke="#8b0000" stroke-width="1"/>
<rect x="396.5" y="375.5" width="2" height="1.00" fill="#ff0000" stroke="#8b0000" stroke-width="1"/>
<line x1="401.5" y1="372.6" x2="401.5" y2="388.4" stroke="#2f4f4f" stroke-width="1"/>
<rect x="400.5" y="375.5" width="2" height="9.00" fill="#90ee90" stroke="#2f4f4f" stroke-width="1"/>
<line x1="405.5" y1="374.6" x2="405.5" y2="387.4" stroke="#8b0000" stroke-width="1"/>
<rect x="404.5" y="376.5" width="2" height="9.00" fill="#ff0000" stroke="#8b0000" stroke-width="1"/>
<line x1="409.5" y1="374.0" x2="409.5" y2="389.7" stroke="#2f4f4f" stroke-width="1"/>
<rect x="408.5" y="377.5" width="2" height="11.00" fill="#90ee90" stroke="#2f4f4f" stroke-width="1"/>
<line x1="413.5" y1="369.3" x2="413.5" y2="393.4" stroke="#8b0000" stroke-width="1"/>
<rect x="412.5" y="370.5" width="2" height="17.00" fill="#ff0000" stroke="#8b0000" stroke-width="1"/>
<line x1="417.5" y1="360.5" x2="417.5" y2="370.6" stroke="#8b0000" stroke-width="1"/>
<rect x="416.5" y="363.5" width="2" height="5.00" fill="#ff0000" stroke="#8b0000" stroke-width="1"/>
<line x1="421.5" y1="349.9" x2="421.5" y2="365.2" stroke="#8b0000" stroke-width="1"/>
<rect x="420.5" y="352.5" width="2" height="11.00" fill="#ff0000" stroke="#8b0000" stroke-width="1"/>
<line x1="425.5" y1="351.1" x2="425.5" y2="358.6" stroke="#2f4f4f" stroke-width="1"/>
<rect x="424.5" y="354.5" width="2" height="1.00" fill="#90ee90" stroke="#2f4f4f" stroke-width="1"/>
<line x1="429.5" y1="353.2" x2="429.5" y2="359.7" stroke="#8b0000" stroke-width="1"/>
<rect x="428.5" y="355.5" width="2" height="1.00" fill="#ff0000" stroke="#8b0000" stroke-width="1"/>
<line x1="433.5" y1="351.5" x2="433.5" y2="360.1" stroke="#2f4f4f" stroke-width="1"/>
<rect x="432.5" y="354.5" width="2" height="4.00" fill="#90ee90" stroke="#2f4f4f" stroke-width="1"/>
<line x1="437.5" y1="347.2" x2="437.5" y2="360.4" stroke="#8b0000" stroke-width="1"/>
<rect x="436.5" y="351.5" width="2" height="7.00" fill="#ff0000" stroke="#8b0000" stroke-width="1"/>
<line x1="441.5" y1="350.6" x2="441.5" y2="355.2" stroke="#8b0000" stroke-width="1"/>
<rect x="440.5" y="352.5" width="2" height="1.00" fill="#ff0000" stroke="#8b0000" stroke-width="1"/>
<line x1="445.5" y1="345.2" x2="445.5" y2="355.6" stroke="#8b0000" stroke-width="1"/>
<rect x="444.5" y="348.5" width="2" height="3.00" fill="#ff0000" stroke="#8b0000" stroke-width="1"/>
<line x1="449.5" y1="332.3" x2="449.5" y2="351.2" stroke="#8b0000" stroke-width="1"/>
<rect x="448.5" y="336.5" width="2" height="12.00" fill="#ff0000" stroke="#8b0000" stroke-width="1"/>
<line x1="453.5" y1="320.2" x2="453.5" y2="338.5" stroke="#8b0000" stroke-width="1"/>
<rect x="452.5" y="322.5" width="2" height="15.00" fill="#ff0000" stroke="#8b0000" stroke-width="1"/>
<line x1="457.5" y1="313.0" x2="457.5" y2="323.8" stroke="#8b0000" stroke-width="1"/>
<rect x="456.5" y="316.5" width="2" height="4.00" fill="#ff0000" stroke="#8b0000" stroke-width="1"/>
<line x1="461.5" y1="314.2" x2="461.5" y2="321.1" stroke="#2f4f4f" stroke-width="1"/>
<rect x="460.5" y="316.5" width="2" height="1.00" fill="#90ee90" stroke="#2f4f4f" stroke-width="1"/>
<line x1="465.5" y1="298.6" x2="465.5" y2="320.1" stroke="#8b0000" stroke-width="1"/>
<rect x="464.5" y="301.5" width="2" height="14.00" fill="#ff0000" stroke="#8b0000" stroke-width="1"/>
<line x1="469.5" y1="298.6" x2="469.5" y2="310.3" stroke="#2f4f4f" stroke-width="1"/>
<rect x="468.5" y="302.5" width="2" height="6.00" fill="#90ee90" stroke="#2f4f4f" stroke-width="1"/>
<line x1="473.5" y1="296.2" x2="473.5" y2="307.7" stroke="#8b0000" stroke-width="1"/>
<rect x="472.5" y="300.5" width="2" height="6.00" fill="#ff0000" stroke="#8b0000" stroke-width="1"/>
<line x1="477.5" y1="296.3" x2="477.5" y2="305.9" stroke="#2f4f4f" stroke-width="1"/>
<rect x="476.5" y="299.5" width="2" height="4.00" fill="#90ee90" stroke="#2f4f4f" stroke-width="1"/>
<line x1="481.5" y1="287.6" x2="481.5" y2="303.0" stroke="#8b0000" stroke-width="1"/>
<rect x="480.5" y="289.5" width="2" height="12.00" fill="#ff0000" stroke="#8b0000" stroke-width="1"/>
<line x1="485.5" y1="279.0" x2="485.5" y2="295.5" stroke="#2f4f4f" stroke-width="1"/>
<rect x="484.5" y="287.5" width="2" height="4.00" fill="#90ee90" stroke="#2f4f4f" stroke-width="1"/>
<line x1="489.5" y1="282.5" x2="489.5" y2="295.8" stroke="#8b0000" stroke-width="1"/>
<rect x="488.5" y="284.5" width="2" height="8.00" fill="#ff0000" stroke="#8b0000" stroke-width="1"/>
<line x1="493.5" y1="280.7" x2="493.5" y2="297.4" stroke="#2f4f4f" stroke-width="1"/>
<rect x="492.5" y="284.5" width="2" height="11.00" fill="#90ee90" stroke="#2f4f4f" stroke-width="1"/>
<line x1="497.5" y1="294.4" x2="497.5" y2="306.5" stroke="#2f4f4f" stroke-width="1"/>
<rect x="496.5" y="296.5" width="2" height="7.00" fill="#90ee90" stroke="#2f4f4f" stroke-width="1"/>
<line x1="501.5" y1="298.5" x2="501.5" y2="312.7" stroke="#2f4f4f" stroke-width="1"/>
<rect x="500.5" y="302.5" width="2" height="9.00" fill="#90ee90" stroke="#2f4f4f" stroke-width="1"/>
<line x1="505.5" y1="297.4" x2="505.5" y2="313.4" stroke="#8b0000" stroke-width="1"/>
<rect x="504.5" y="302.5" width="2" height="6.00" fill="#ff0000" stroke="#8b0000" stroke-width="1"/>
<line x1="509.5" y1="288.1" x2="509.5" y2="308.6" stroke="#8b0000" stroke-width="1"/>
<rect x="508.5" y="291.5" width="2" height="14.00" fill="#ff0000" stroke="#8b0000" stroke-width="1"/>
<line x1="513.5" y1="288.4" x2="513.5" y2="300.9" stroke="#2f4f4f" stroke-width="1"/>
<rect x="512.5" y="292.5" width="2" height="6.00" fill="#90ee90" stroke="#2f4f4f" stroke-width="1"/>
<line x1="517.5" y1="290.0" x2="517.5" y2="306.6" stroke="#2f4f4f" stroke-width="1"/>
<rect x="516.5" y="291.5" width="2" height="11.00" fill="#90ee90" stroke="#2f4f4f" stroke-width="1"/>
<line x1="521.5" y1="296.2" x2="521.5" y2="313.9" stroke="#2f4f4f" stroke-width="1"/>
<rect x="520.5" y="298.5" width="2" height="13.00" fill="#90ee90" stroke="#2f4f4f" stroke-width="1"/>
<line x1="525.5" y1="305.9" x2="525.5" y2="319.6" stroke="#8b0000" stroke-width="1"/>
<rect x="524.5" y="307.5" width="2" height="7.00" fill="#ff0000" stroke="#8b0000" stroke-width="1"/>
<line x1="529.5" y1="298.3" x2="529.5" y2="311.8" stroke="#8b0000" stroke-width="1"/>
<rect x="528.5" y="304.5" width="2" height="5.00" fill="#ff0000" stroke="#8b0000" stroke-width="1"/>
<line x1="533.5" y1="295.6" x2="533.5" y2="310.7" stroke="#8b0000" stroke-width="1"/>
<rect x="532.5" y="302.5" width="2" height="4.00" fill="#ff0000" stroke="#8b0000" stroke-width="1"/>
<line x1="537.5" y1="299.9" x2="537.5" y2="320.2" stroke="#2f4f4f" stroke-width="1"/>
<rect x="536.5" y="303.5" width="2" height="13.00" fill="#90ee90" stroke="#2f4f4f" stroke-width="1"/>
<line x1="541.5" y1="313.6" x2="541.5" y2="330.0" stroke="#2f4f4f" stroke-width="1"/>
<rect x="540.5" y="315.5" width="2" height="9.00" fill="#90ee90" stroke="#2f4f4f" stroke-width="1"/>
<line x1="545.5" y1="297.2" x2="545.5" y2="327.9" stroke="#8b0000" stroke-width="1"/>
<rect x="544.5" y="301.5" width="2" height="23.00" fill="#ff0000" stroke="#8b0000" stroke-width="1"/>
<line x1="549.5" y1="286.9" x2="549.5" y2="303.9" stroke="#8b0000" stroke-width="1"/>
<rect x="548.5" y="289.5" width="2" height="11.00" fill="#ff0000" stroke="#8b0000" stroke-width="1"/>
<line x1="553.5" y1="278.0" x2="553.5" y2="293.5" stroke="#8b0000" stroke-width="1"/>
<rect x="552.5" y="280.5" width="2" height="11.00" fill="#ff0000" stroke="#8b0000" stroke-width="1"/>
<line x1="557.5" y1="268.7" x2="557.5" y2="287.6" stroke="#8b0000" stroke-width="1"/>
<rect x="556.5" y="275.5" width="2" height="8.00" fill="#ff0000" stroke="#8b0000" stroke-width="1"/>
<line x1="561.5" y1="272.3" x2="561.5" y2="280.2" stroke="#8b0000" stroke-width="1"/>
<rect x="560.5" y="275.5" width="2" height="3.00" fill="#ff0000" stroke="#8b0000" stroke-width="1"/>
<line x1="565.5" y1="271.8" x2="565.5" y2="287.5" stroke="#8b0000" stroke-width="1"/>
<rect x="564.5" y="274.5" width="2" height="7.00" fill="#ff0000" stroke="#8b0000" stroke-width="1"/>
<line x1="569.5" y1="258.9" x2="569.5" y2="277.1" stroke="#8b0000" stroke-width="1"/>
<rect x="568.5" y="260.5" width="2" height="14.00" fill="#ff0000" stroke="#8b0000" stroke-width="1"/>
<line x1="573.5" y1="248.1" x2="573.5" y2="269.9" stroke="#8b0000" stroke-width="1"/>
<rect x="572.5" y="254.5" width="2" height="10.00" fill="#ff0000" stroke="#8b0000" stroke-width="1"/>
<line x1="577.5" y1="246.2" x2="577.5" y2="262.0" stroke="#2f4f4f" stroke-width="1"/>
<rect x="576.5" y="252.5" width="2" height="5.00" fill="#90ee90" stroke="#2f4f4f" stroke-width="1"/>
<line x1="581.5" y1="254.1" x2="581.5" y2="272.3" stroke="#2f4f4f" stroke-width="1"/>
<rect x="580.5" y="255.5" width="2" height="14.00" fill="#90ee90" stroke="#2f4f4f" stroke-width="1"/>
<line x1="585.5" y1="249.4" x2="585.5" y2="268.4" stroke="#8b0000" stroke-width="1"/>
<rect x="584.5" y="253.5" width="2" height="11.00" fill="#ff0000" stroke="#8b0000" stroke-width="1"/>
<line x1="589.5" y1="237.8" x2="589.5" y2="260.8" stroke="#8b0000" stroke-width="1"/>
<rect x="588.5" y="241.5" width="2" height="16.00" fill="#ff0000" stroke="#8b0000" stroke-width="1"/>
<line x1="593.5" y1="231.9" x2="593.5" y2="245.2" stroke="#8b0000" stroke-width="1"/>
<rect x="592.5" y="234.5" width="2" height="7.00" fill="#ff0000" stroke="#8b0000" stroke-width="1"/>
<line x1="597.5" y1="230.1" x2="597.5" y2="244.7" stroke="#8b0000" stroke-width="1"/>
<rect x="596.5" y="232.5" width="2" height="8.00" fill="#ff0000" stroke="#8b0000" stroke-width="1"/>
<line x1="601.5" y1="222.2" x2="601.5" y2="238.0" stroke="#8b0000" stroke-width="1"/>
<rect x="600.5" y="225.5" width="2" height="10.00" fill="#ff0000" stroke="#8b0000" stroke-width="1"/>
<line x1="605.5" y1="220.7" x2="605.5" y2="240.1" stroke="#2f4f4f" stroke-width="1"/>
<rect x="604.5" y="224.5" width="2" height="11.00" fill="#90ee90" stroke="#2f4f4f" stroke-width="1"/>
<line x1="609.5" y1="220.6" x2="609.5" y2="241.3" stroke="#8b0000" stroke-width="1"/>
<rect x="608.5" y="222.5" width="2" height="11.00" fill="#ff0000" stroke="#8b0000" stroke-width="1"/>
<line x1="613.5" y1="212.4" x2="613.5" y2="228.3" stroke="#8b0000" stroke-width="1"/>
<rect x="612.5" y="216.5" width="2" height="10.00" fill="#ff0000" stroke="#8b0000" stroke-width="1"/>
<line x1="617.5" y1="212.9" x2="617.5" y2="225.3" stroke="#2f4f4f" stroke-width="1"/>
<rect x="616.5" y="215.5" width="2" height="8.00" fill="#90ee90" stroke="#2f4f4f" stroke-width="1"/>
<line x1="621.5" y1="218.0" x2="621.5" y2="229.2" stroke="#8b0000" stroke-width="1"/>
<rect x="620.5" y="221.5" width="2" height="4.00" fill="#ff0000" stroke="#8b0000" stroke-width="1"/>
<line x1="625.5" y1="207.7" x2="625.5" y2="224.8" stroke="#8b0000" stroke-width="1"/>
<rect x="624.5" y="211.5" width="2" height="9.00" fill="#ff0000" stroke="#8b0000" stroke-width="1"/>
<line x1="629.5" y1="208.0" x2="629.5" y2="224.7" stroke="#2f4f4f" stroke-width="1"/>
<rect x="628.5" y="213.5" width="2" height="9.00" fill="#90ee90" stroke="#2f4f4f" stroke-width="1"/>
<line x1="633.5" y1="218.7" x2="633.5" y2="230.3" stroke="#2f4f4f" stroke-width="1"/>
<rect x="632.5" y="222.5" width="2" height="4.00" fill="#90ee90" stroke="#2f4f4f" stroke-width="1"/>
<line x1="637.5" y1="215.3" x2="637.5" y2="226.8" stroke="#2f4f4f" stroke-width="1"/>
<rect x="636.5" y="218.5" width="2" height="6.00" fill="#90ee90" stroke="#2f4f4f" stroke-width="1"/>
<line x1="641.5" y1="220.0" x2="641.5" y2="251.0" stroke="#2f4f4f" stroke-width="1"/>
<rect x="640.5" y="224.5" width="2" height="25.00" fill="#90ee90" stroke="#2f4f4f" stroke-width="1"/>
<line x1="645.5" y1="229.1" x2="645.5" y2="250.5" stroke="#8b0000" stroke-width="1"/>
<rect x="644.5" y="231.5" width="2" height="17.00" fill="#ff0000" stroke="#8b0000" stroke-width="1"/>
<line x1="649.5" y1="221.1" x2="649.5" y2="239.1" stroke="#8b0000" stroke-width="1"/>
<rect x="648.5" y="225.5" width="2" height="10.00" fill="#ff0000" stroke="#8b0000" stroke-width="1"/>
<line x1="653.5" y1="214.1" x2="653.5" y2="230.3" stroke="#8b0000" stroke-width="1"/>
<rect x="652.5" y="217.5" width="2" height="9.00" fill="#ff0000" stroke="#8b0000" stroke-width="1"/>
<line x1="657.5" y1="203.2" x2="657.5" y2="219.6" stroke="#8b0000" stroke-width="1"/>
<rect x="656.5" y="207.5" width="2" height="9.00" fill="#ff0000" stroke="#8b0000" stroke-width="1"/>
<line x1="661.5" y1="196.0" x2="661.5" y2="214.0" stroke="#8b0000" stroke-width="1"/>
<rect x="660.5" y="200.5" width="2" height="10.00" fill="#ff0000" stroke="#8b0000" stroke-width="1"/>
<line x1="665.5" y1="197.2" x2="665.5" y2="214.5" stroke="#2f4f4f" stroke-width="1"/>
<rect x="664.5" y="201.5" width="2" height="10.00" fill="#90ee90" stroke="#2f4f4f" stroke-width="1"/>
<line x1="669.5" y1="190.0" x2="669.5" y2="209.8" stroke="#8b0000" stroke-width="1"/>
<rect x="668.5" y="193.5" width="2" height="13.00" fill="#ff0000" stroke="#8b0000" stroke-width="1"/>
<line x1="673.5" y1="183.7" x2="673.5" y2="199.9" stroke="#8b0000" stroke-width="1"/>
<rect x="672.5" y="186.5" width="2" height="11.00" fill="#ff0000" stroke="#8b0000" stroke-width="1"/>
<line x1="677.5" y1="168.2" x2="677.5" y2="186.3" stroke="#8b0000" stroke-width="1"/>
<rect x="676.5" y="172.5" width="2" height="12.00" fill="#ff0000" stroke="#8b0000" stroke-width="1"/>
<line x1="681.5" y1="159.0" x2="681.5" y2="177.6" stroke="#8b0000" stroke-width="1"/>
<rect x="680.5" y="162.5" width="2" height="13.00" fill="#ff0000" stroke="#8b0000" stroke-width="1"/>
<line x1="685.5" y1="156.8" x2="685.5" y2="179.2" stroke="#8b0000" stroke-width="1"/>
<rect x="684.5" y="160.5" width="2" height="17.00" fill="#ff0000" stroke="#8b0000" stroke-width="1"/>
<line x1="689.5" y1="150.0" x2="689.5" y2="164.1" stroke="#2f4f4f" stroke-width="1"/>
<rect x="688.5" y="152.5" width="2" height="10.00" fill="#90ee90" stroke="#2f4f4f" stroke-width="1"/>
<line x1="693.5" y1="157.0" x2="693.5" y2="182.9" stroke="#2f4f4f" stroke-width="1"/>
<rect x="692.5" y="160.5" width="2" height="20.00" fill="#90ee90" stroke="#2f4f4f" stroke-width="1"/>
<line x1="697.5" y1="172.8" x2="697.5" y2="194.2" stroke="#2f4f4f" stroke-width="1"/>
<rect x="696.5" y="175.5" width="2" height="17.00" fill="#90ee90" stroke="#2f4f4f" stroke-width="1"/>
<line x1="701.5" y1="179.9" x2="701.5" y2="204.3" stroke="#2f4f4f" stroke-width="1"/>
<rect x="700.5" y="181.5" width="2" height="18.00" fill="#90ee90" stroke="#2f4f4f" stroke-width="1"/>
<line x1="705.5" y1="192.9" x2="705.5" y2="244.0" stroke="#2f4f4f" stroke-width="1"/>
<rect x="704.5" y="196.5" width="2" height="7.00" fill="#90ee90" stroke="#2f4f4f" stroke-width="1"/>
<line x1="709.5" y1="180.4" x2="709.5" y2="209.1" stroke="#8b0000" stroke-width="1"/>
<rect x="708.5" y="182.5" width="2" height="25.00" fill="#ff0000" stroke="#8b0000" stroke-width="1"/>
<line x1="713.5" y1="172.8" x2="713.5" y2="184.7" stroke="#8b0000" stroke-width="1"/>
<rect x="712.5" y="176.5" width="2" height="7.00" fill="#ff0000" stroke="#8b0000" stroke-width="1"/>
<line x1="717.5" y1="177.7" x2="717.5" y2="191.5" stroke="#2f4f4f" stroke-width="1"/>
<rect x="716.5" y="179.5" width="2" height="8.00" fill="#90ee90" stroke="#2f4f4f" stroke-width="1"/>
<line x1="721.5" y1="179.5" x2="721.5" y2="218.1" stroke="#2f4f4f" stroke-width="1"/>
<rect x="720.5" y="182.5" width="2" height="32.00" fill="#90ee90" stroke="#2f4f4f" stroke-width="1"/>
<line x1="725.5" y1="180.4" x2="725.5" y2="216.2" stroke="#8b0000" stroke-width="1"/>
<rect x="724.5" y="184.5" width="2" height="30.00" fill="#ff0000" stroke="#8b0000" stroke-width="1"/>
<line x1="729.5" y1="168.8" x2="729.5" y2="185.7" stroke="#8b0000" stroke-width="1"/>
<rect x="728.5" y="172.5" width="2" height="11.00" fill="#ff0000" stroke="#8b0000" stroke-width="1"/>
<line x1="733.5" y1="158.5" x2="733.5" y2="179.9" stroke="#8b0000" stroke-width="1"/>
<rect x="732.5" y="162.5" width="2" height="13.00" fill="#ff0000" stroke="#8b0000" stroke-width="1"/>
<line x1="737.5" y1="162.3" x2="737.5" y2="174.6" stroke="#8b0000" stroke-width="1"/>
<rect x="736.5" y="167.5" width="2" height="5.00" fill="#ff0000" stroke="#8b0000" stroke-width="1"/>
<line x1="741.5" y1="159.4" x2="741.5" y2="171.6" stroke="#8b0000" stroke-width="1"/>
<rect x="740.5" y="163.5" width="2" height="6.00" fill="#ff0000" stroke="#8b0000" stroke-width="1"/>
<line x1="745.5" y1="153.5" x2="745.5" y2="168.0" stroke="#8b0000" stroke-width="1"/>
<rect x="744.5" y="157.5" width="2" height="6.00" fill="#ff0000" stroke="#8b0000" stroke-width="1"/>
<line x1="749.5" y1="152.8" x2="749.5" y2="169.5" stroke="#2f4f4f" stroke-width="1"/>
<rect x="748.5" y="159.5" width="2" height="7.00" fill="#90ee90" stroke="#2f4f4f" stroke-width="1"/>
<line x1="753.5" y1="155.7" x2="753.5" y2="171.7" stroke="#2f4f4f" stroke-width="1"/>
<rect x="752.5" y="160.5" width="2" height="9.00" fill="#90ee90" stroke="#2f4f4f" stroke-width="1"/>
<line x1="757.5" y1="138.6" x2="757.5" y2="171.7" stroke="#8b0000" stroke-width="1"/>
<rect x="756.5" y="140.5" width="2" height="29.00" fill="#ff0000" stroke="#8b0000" stroke-width="1"/>
<line x1="761.5" y1="136.7" x2="761.5" y2="163.0" stroke="#2f4f4f" stroke-width="1"/>
<rect x="760.5" y="138.5" width="2" height="21.00" fill="#90ee90" stroke="#2f4f4f" stroke-width="1"/>
<line x1="765.5" y1="145.3" x2="765.5" y2="163.6" stroke="#8b0000" stroke-width="1"/>
<rect x="764.5" y="149.5" width="2" height="11.00" fill="#ff0000" stroke="#8b0000" stroke-width="1"/>
<line x1="769.5" y1="140.4" x2="769.5" y2="152.8" stroke="#8b0000" stroke-width="1"/>
<rect x="768.5" y="144.5" width="2" height="5.00" fill="#ff0000" stroke="#8b0000" stroke-width="1"/>
<line x1="773.5" y1="125.1" x2="773.5" y2="146.4" stroke="#8b0000" stroke-width="1"/>
<rect x="772.5" y="127.5" width="2" height="17.00" fill="#ff0000" stroke="#8b0000" stroke-width="1"/>
<line x1="777.5" y1="120.9" x2="777.5" y2="131.5" stroke="#8b0000" stroke-width="1"/>
<rect x="776.5" y="122.5" width="2" height="5.00" fill="#ff0000" stroke="#8b0000" stroke-width="1"/>
<line x1="781.5" y1="114.0" x2="781.5" y2="139.4" stroke="#2f4f4f" stroke-width="1"/>
<rect x="780.5" y="122.5" width="2" height="15.00" fill="#90ee90" stroke="#2f4f4f" stroke-width="1"/>
<line x1="785.5" y1="127.4" x2="785.5" y2="140.1" stroke="#8b0000" stroke-width="1"/>
<rect x="784.5" y="129.5" width="2" height="8.00" fill="#ff0000" stroke="#8b0000" stroke-width="1"/>
<line x1="789.5" y1="121.2" x2="789.5" y2="142.5" stroke="#2f4f4f" stroke-width="1"/>
<rect x="788.5" y="127.5" width="2" height="9.00" fill="#90ee90" stroke="#2f4f4f" stroke-width="1"/>
<line x1="793.5" y1="137.9" x2="793.5" y2="157.0" stroke="#2f4f4f" stroke-width="1"/>
<rect x="792.5" y="139.5" width="2" height="10.00" fill="#90ee90" stroke="#2f4f4f" stroke-width="1"/>
<line x1="797.5" y1="138.4" x2="797.5" y2="151.7" stroke="#8b0000" stroke-width="1"/>
<rect x="796.5" y="140.5" width="2" height="9.00" fill="#ff0000" stroke="#8b0000" stroke-width="1"/>
<line x1="801.5" y1="130.4" x2="801.5" y2="146.3" stroke="#8b0000" stroke-width="1"/>
<rect x="800.5" y="134.5" width="2" height="9.00" fill="#ff0000" stroke="#8b0000" stroke-width="1"/>
<line x1="805.5" y1="133.2" x2="805.5" y2="143.2" stroke="#8b0000" stroke-width="1"/>
<rect x="804.5" y="138.5" width="2" height="3.00" fill="#ff0000" stroke="#8b0000" stroke-width="1"/>
<line x1="809.5" y1="128.7" x2="809.5" y2="149.6" stroke="#8b0000" stroke-width="1"/>
<rect x="808.5" y="132.5" width="2" height="15.00" fill="#ff0000" stroke="#8b0000" stroke-width="1"/>
<line x1="813.5" y1="111.6" x2="813.5" y2="134.9" stroke="#8b0000" stroke-width="1"/>
<rect x="812.5" y="114.5" width="2" height="16.00" fill="#ff0000" stroke="#8b0000" stroke-width="1"/>
<line x1="817.5" y1="109.5" x2="817.5" y2="129.5" stroke="#2f4f4f" stroke-width="1"/>
<rect x="816.5" y="113.5" width="2" height="13.00" fill="#90ee90" stroke="#2f4f4f" stroke-width="1"/>
<line x1="821.5" y1="122.5" x2="821.5" y2="158.7" stroke="#2f4f4f" stroke-width="1"/>
<rect x="820.5" y="126.5" width="2" height="21.00" fill="#90ee90" stroke="#2f4f4f" stroke-width="1"/>
<line x1="825.5" y1="141.3" x2="825.5" y2="177.7" stroke="#2f4f4f" stroke-width="1"/>
<rect x="824.5" y="144.5" width="2" height="21.00" fill="#90ee90" stroke="#2f4f4f" stroke-width="1"/>
<line x1="829.5" y1="166.6" x2="829.5" y2="195.0" stroke="#2f4f4f" stroke-width="1"/>
<rect x="828.5" y="168.5" width="2" height="10.00" fill="#90ee90" stroke="#2f4f4f" stroke-width="1"/>
<line x1="833.5" y1="174.6" x2="833.5" y2="193.3" stroke="#2f4f4f" stroke-width="1"/>
<rect x="832.5" y="177.5" width="2" height="13.00" fill="#90ee90" stroke="#2f4f4f" stroke-width="1"/>
<line x1="837.5" y1="185.7" x2="837.5" y2="201.0" stroke="#2f4f4f" stroke-width="1"/>
<rect x="836.5" y="189.5" width="2" height="9.00" fill="#90ee90" stroke="#2f4f4f" stroke-width="1"/>
<line x1="841.5" y1="173.0" x2="841.5" y2="208.8" stroke="#2f4f4f" stroke-width="1"/>
<rect x="840.5" y="191.5" width="2" height="14.00" fill="#90ee90" stroke="#2f4f4f" stroke-width="1"/>
<line x1="845.5" y1="203.1" x2="845.5" y2="268.0" stroke="#8b0000" stroke-width="1"/>
<rect x="844.5" y="206.5" width="2" height="9.00" fill="#ff0000" stroke="#8b0000" stroke-width="1"/>
<line x1="849.5" y1="195.0" x2="849.5" y2="224.6" stroke="#2f4f4f" stroke-width="1"/>
<rect x="848.5" y="197.5" width="2" height="18.00" fill="#90ee90" stroke="#2f4f4f" stroke-width="1"/>
<line x1="853.5" y1="181.3" x2="853.5" y2="225.5" stroke="#8b0000" stroke-width="1"/>
<rect x="852.5" y="185.5" width="2" height="32.00" fill="#ff0000" stroke="#8b0000" stroke-width="1"/>
<line x1="857.5" y1="164.6" x2="857.5" y2="196.6" stroke="#8b0000" stroke-width="1"/>
<rect x="856.5" y="166.5" width="2" height="21.00" fill="#ff0000" stroke="#8b0000" stroke-width="1"/>
<line x1="861.5" y1="163.0" x2="861.5" y2="180.0" stroke="#2f4f4f" stroke-width="1"/>
<rect x="860.5" y="170.5" width="2" height="1.00" fill="#90ee90" stroke="#2f4f4f" stroke-width="1"/>
<line x1="865.5" y1="131.0" x2="865.5" y2="164.0" stroke="#8b0000" stroke-width="1"/>
<rect x="864.5" y="133.5" width="2" height="26.00" fill="#ff0000" stroke="#8b0000" stroke-width="1"/>
<line x1="869.5" y1="128.9" x2="869.5" y2="152.4" stroke="#2f4f4f" stroke-width="1"/>
<rect x="868.5" y="136.5" width="2" height="10.00" fill="#90ee90" stroke="#2f4f4f" stroke-width="1"/>
<line x1="873.5" y1="120.7" x2="873.5" y2="146.6" stroke="#8b0000" stroke-width="1"/>
<rect x="872.5" y="133.5" width="2" height="11.00" fill="#ff0000" stroke="#8b0000" stroke-width="1"/>
<line x1="877.5" y1="118.9" x2="877.5" y2="137.1" stroke="#8b0000" stroke-width="1"/>
<rect x="876.5" y="122.5" width="2" height="13.00" fill="#ff0000" stroke="#8b0000" stroke-width="1"/>
<line x1="881.5" y1="114.4" x2="881.5" y2="131.6" stroke="#2f4f4f" stroke-width="1"/>
<rect x="880.5" y="122.5" width="2" height="4.00" fill="#90ee90" stroke="#2f4f4f" stroke-width="1"/>
<line x1="885.5" y1="117.1" x2="885.5" y2="132.5" stroke="#8b0000" stroke-width="1"/>
<rect x="884.5" y="126.5" width="2" height="1.00" fill="#ff0000" stroke="#8b0000" stroke-width="1"/>
<line x1="889.5" y1="100.1" x2="889.5" y2="136.7" stroke="#8b0000" stroke-width="1"/>
<rect x="888.5" y="102.5" width="2" height="30.00" fill="#ff0000" stroke="#8b0000" stroke-width="1"/>
<line x1="893.5" y1="91.8" x2="893.5" y2="105.0" stroke="#8b0000" stroke-width="1"/>
<rect x="892.5" y="97.5" width="2" height="4.00" fill="#ff0000" stroke="#8b0000" stroke-width="1"/>
<line x1="897.5" y1="90.8" x2="897.5" y2="101.0" stroke="#2f4f4f" stroke-width="1"/>
<rect x="896.5" y="95.5" width="2" height="0.01" fill="#90ee90" stroke="#2f4f4f" stroke-width="1"/>
<line x1="901.5" y1="85.0" x2="901.5" y2="103.2" stroke="#8b0000" stroke-width="1"/>
<rect x="900.5" y="87.5" width="2" height="11.00" fill="#ff0000" stroke="#8b0000" stroke-width="1"/>
<line x1="905.5" y1="79.6" x2="905.5" y2="90.8" stroke="#8b0000" stroke-width="1"/>
<rect x="904.5" y="81.5" width="2" height="5.00" fill="#ff0000" stroke="#8b0000" stroke-width="1"/>
<line x1="909.5" y1="70.4" x2="909.5" y2="92.7" stroke="#2f4f4f" stroke-width="1"/>
<rect x="908.5" y="78.5" width="2" height="6.00" fill="#90ee90" stroke="#2f4f4f" stroke-width="1"/>
<line x1="913.5" y1="75.5" x2="913.5" y2="84.5" stroke="#8b0000" stroke-width="1"/>
<rect x="912.5" y="78.5" width="2" height="3.00" fill="#ff0000" stroke="#8b0000" stroke-width="1"/>
<line x1="917.5" y1="73.6" x2="917.5" y2="82.6" stroke="#2f4f4f" stroke-width="1"/>
<rect x="916.5" y="77.5" width="2" height="3.00" fill="#90ee90" stroke="#2f4f4f" stroke-width="1"/>
<line x1="921.5" y1="73.5" x2="921.5" y2="84.0" stroke="#2f4f4f" stroke-width="1"/>
<rect x="920.5" y="76.5" width="2" height="5.00" fill="#90ee90" stroke="#2f4f4f" stroke-width="1"/>
<line x1="925.5" y1="69.8" x2="925.5" y2="90.0" stroke="#2f4f4f" stroke-width="1"/>
<rect x="924.5" y="73.5" width="2" height="6.00" fill="#90ee90" stroke="#2f4f4f" stroke-width="1"/>
<line x1="929.5" y1="68.5" x2="929.5" y2="90.0" stroke="#8b0000" stroke-width="1"/>
<rect x="928.5" y="71.5" width="2" height="6.00" fill="#ff0000" stroke="#8b0000" stroke-width="1"/>
<line x1="933.5" y1="56.6" x2="933.5" y2="77.0" stroke="#8b0000" stroke-width="1"/>
<rect x="932.5" y="60.5" width="2" height="12.00" fill="#ff0000" stroke="#8b0000" stroke-width="1"/>
<line x1="937.5" y1="51.1" x2="937.5" y2="63.7" stroke="#8b0000" stroke-width="1"/>
<rect x="936.5" y="53.5" width="2" height="7.00" fill="#ff0000" stroke="#8b0000" stroke-width="1"/>
<line x1="941.5" y1="40.0" x2="941.5" y2="49.9" stroke="#8b0000" stroke-width="1"/>
<rect x="940.5" y="41.5" width="2" height="5.00" fill="#ff0000" stroke="#8b0000" stroke-width="1"/>
</g>
<rect x="835.2" y="11.4" width="173" height="22.1" fill="none" stroke="#f94c4c" stroke-width="2.6"/>
<polygon points="548.4,330.1 658.3,174.5 651.9,170.7 681.4,151.7 673.4,186.3 666.7,179.9 549.5,331.0" fill="#f95252" stroke="#f95252" stroke-width="0.6" stroke-linejoin="round"/>
<polygon points="691.0,153.5 692.6,153.5 703.3,208.3 710.9,208.7 704.5,244.6 686.4,211.9 693.1,211.6" fill="#f95252" stroke="#f95252" stroke-width="0.6" stroke-linejoin="round"/>
<polygon points="714.3,241.6 790.2,132.1 783.9,128.3 813.0,109.3 805.0,142.2 799.1,138.0 715.6,242.7" fill="#f95252" stroke="#f95252" stroke-width="0.6" stroke-linejoin="round"/>
<polygon points="826.8,117.3 828.0,117.3 847.5,228.2 855.1,227.4 845.4,270.0 830.2,230.7 837.4,229.9" fill="#f95252" stroke="#f95252" stroke-width="0.6" stroke-linejoin="round"/>
<polygon points="845.0,269.6 922.1,46.3 914.5,44.7 937.2,18.8 938.6,52.5 932.4,50.1 846.0,270.1" fill="#f95252" stroke="#f95252" stroke-width="0.6" stroke-linejoin="round"/>
</g>
<line x1="0.0" y1="585.5" x2="1087.0" y2="585.5" stroke="#000" stroke-width="1" shape-rendering="crispEdges"/>
<line x1="0.0" y1="588.0" x2="1087.0" y2="588.0" stroke="#000" stroke-width="1" shape-rendering="crispEdges"/>
<line x1="0.0" y1="700.5" x2="1087.0" y2="700.5" stroke="#000" stroke-width="1" shape-rendering="crispEdges"/>
<line x1="0.0" y1="702.5" x2="1087.0" y2="702.5" stroke="#000" stroke-width="1" shape-rendering="crispEdges"/>
<line x1="0.0" y1="812.5" x2="1087.0" y2="812.5" stroke="#000" stroke-width="1" shape-rendering="crispEdges"/>
<line x1="1087.5" y1="0.0" x2="1087.5" y2="813.0" stroke="#000" stroke-width="1" shape-rendering="crispEdges"/>
<g clip-path="url(#cr)">
<line x1="0.0" y1="605.5" x2="1087.0" y2="605.5" stroke="#ff0000" stroke-width="1" shape-rendering="crispEdges"/>
<line x1="0.0" y1="622.5" x2="1087.0" y2="622.5" stroke="#ff0000" stroke-width="1" stroke-dasharray="7 3 2 3" shape-rendering="crispEdges"/>
<line x1="0.0" y1="644.5" x2="1087.0" y2="644.5" stroke="#555" stroke-width="1" stroke-dasharray="3 3" shape-rendering="crispEdges"/>
<line x1="0.0" y1="666.5" x2="1087.0" y2="666.5" stroke="#0000ff" stroke-width="1" stroke-dasharray="7 3 2 3" shape-rendering="crispEdges"/>
<line x1="0.0" y1="683.5" x2="1087.0" y2="683.5" stroke="#0000ff" stroke-width="1" shape-rendering="crispEdges"/>
<polyline points="0.0,644.0 2.5,643.0 6.2,633.5 10.0,623.5 13.8,617.2 17.5,618.5 21.2,616.5 25.0,629.8 28.8,646.0 33.2,649.2 37.5,637.2 41.2,634.8 45.0,629.8 50.0,621.0 55.0,613.5 60.0,609.0 64.5,607.2 68.8,609.8 75.0,606.0 81.2,606.0 85.0,618.5 88.8,611.0 93.0,606.0 97.5,606.0 101.2,616.0 105.0,637.2 108.8,644.8 113.0,656.5 117.5,643.5 121.2,629.8 125.0,621.0 128.8,614.8 133.8,611.0 137.5,610.2 141.8,611.0 145.0,631.0 150.0,630.5 153.8,628.5 157.5,637.2 161.2,621.0 165.0,633.5 170.0,652.2 177.5,674.8 181.2,658.5 186.2,662.2 192.5,673.5 197.5,661.0 201.2,667.2 205.0,662.2 208.8,646.0 213.2,636.0 217.5,642.2 221.2,651.0 225.0,656.0 228.8,663.5 232.5,667.2 236.2,674.0 240.5,676.0 245.0,673.5 248.8,657.2 252.5,661.0 257.0,673.0 261.2,664.8 265.0,663.0 272.5,662.2 276.2,651.0 280.0,642.2 283.8,631.0 287.5,626.0 293.0,621.5 296.2,636.0 300.0,651.0 303.8,654.0 308.8,653.5 313.8,666.0 317.5,671.0 321.2,671.5 325.5,677.2 328.8,669.8 332.5,657.2 337.5,661.0 341.2,654.8 345.0,639.8 350.0,640.5 353.8,639.2 357.5,641.5 361.2,643.5 365.0,661.0 368.8,666.5 372.5,666.5 376.2,651.0 381.2,641.0 385.0,629.8 388.8,619.8 392.5,617.2 397.0,617.2 401.2,634.8 405.0,637.2 408.8,635.5 413.0,633.5 417.0,619.8 421.2,614.8 425.0,612.2 428.8,615.5 433.0,614.8 437.5,618.5 442.5,614.0 447.5,608.5 451.2,602.2 455.0,599.0 460.0,597.2 465.0,595.5 472.5,596.0 480.0,594.2 485.5,593.5 490.0,599.8 493.8,604.8 497.5,626.0 501.2,641.0 505.0,638.5 508.8,629.8 512.5,626.5 517.0,626.5 521.2,646.0 525.0,658.5 528.8,656.0 532.5,639.8 537.5,649.8 541.2,661.0 545.0,651.0 548.8,633.5 552.5,624.8 557.5,619.8 560.0,618.5 563.8,621.0 567.5,615.5 572.5,609.8 577.0,609.0 580.0,623.5 583.8,626.0 587.5,621.0 593.8,609.0 597.5,613.0 602.5,609.0 607.5,609.8 612.5,606.5 617.5,606.0 621.2,613.5 625.5,610.5 629.5,609.8 632.5,617.2 637.5,619.8 640.5,648.5 645.0,656.5 648.8,648.5 652.5,633.5 657.5,622.2 661.2,616.5 665.0,626.0 668.8,621.0 673.0,612.2 677.0,607.2 681.2,611.5 685.0,608.0 689.2,605.5 692.5,621.0 696.2,639.8 700.0,647.2 705.0,666.5 708.8,644.8 713.8,633.5 717.5,638.5 722.0,647.2 725.5,647.2 730.0,634.8 733.8,631.0 737.5,633.5 742.5,629.8 746.2,627.2 752.5,627.2 757.5,619.8 760.8,617.2 765.0,626.0 770.0,617.2 773.8,612.2 777.5,610.5 781.2,617.2 785.0,617.2 788.8,633.5 793.8,634.8 797.5,639.8 800.0,626.0 805.0,638.0 809.5,632.2 813.8,624.8 817.5,623.0 821.2,646.0 825.0,662.2 829.5,670.5 833.8,668.5 837.5,666.5 841.2,677.2 845.0,682.8 848.8,666.0 853.0,664.0 856.2,647.2 861.2,637.2 865.0,627.2 872.5,621.0 880.0,618.0 883.8,618.5 888.8,616.0 893.8,609.8 898.8,608.0 903.8,605.5 911.2,604.8 914.5,603.0 917.5,601.0 921.2,617.2 925.0,616.0 929.2,622.2 932.5,614.8 937.0,608.5 940.8,605.5" fill="none" stroke="#000" stroke-width="1" />
<polyline points="0.0,631.0 5.0,627.2 10.0,622.2 15.0,622.2 21.2,621.5 25.0,626.0 30.0,632.2 33.8,633.0 37.5,631.0 42.5,629.0 47.5,626.0 53.8,623.0 60.0,620.5 65.0,619.8 68.8,620.5 75.0,618.5 81.2,618.5 85.5,621.0 90.0,618.5 95.0,616.5 98.8,617.2 102.5,623.5 107.5,628.0 113.8,633.5 118.8,629.8 123.8,624.8 128.8,621.5 133.8,619.8 137.5,618.5 141.8,619.0 145.0,624.0 150.0,624.8 155.0,624.8 158.0,626.0 162.0,623.5 165.0,627.2 171.2,638.5 177.5,651.5 182.0,645.5 187.5,648.5 193.0,654.8 197.5,650.5 202.0,654.0 206.2,651.5 210.0,644.8 214.5,643.0 218.0,644.8 222.5,649.8 227.5,653.0 232.5,656.0 237.5,660.5 242.0,661.5 246.2,659.8 250.0,656.5 253.8,658.0 257.5,661.0 261.2,659.0 266.2,658.5 273.8,658.5 277.5,654.0 280.0,652.2 285.0,647.2 292.5,644.0 296.2,648.0 301.2,652.2 308.8,653.0 313.8,656.5 320.0,658.5 325.5,660.5 330.0,658.0 333.8,656.0 338.0,658.0 342.5,654.0 346.2,650.5 352.5,650.5 361.2,651.0 365.0,656.0 370.0,658.0 373.8,657.2 377.5,652.2 382.5,648.5 387.5,643.0 392.5,640.2 397.0,640.5 401.2,644.0 405.0,645.2 410.0,644.8 413.8,643.5 417.5,639.0 422.5,636.8 426.2,635.5 430.0,636.0 436.2,636.0 442.5,634.2 450.0,629.0 457.5,623.5 465.0,621.0 472.5,619.8 480.0,617.2 485.5,615.2 490.0,616.8 493.8,618.5 497.5,624.0 501.2,629.8 506.2,626.8 512.5,624.8 517.5,625.5 521.2,631.5 525.5,636.0 528.8,635.5 533.0,632.2 537.5,636.5 541.2,641.0 545.0,637.8 548.8,633.0 553.0,629.0 557.5,626.5 560.0,624.8 565.0,628.0 570.0,624.0 573.8,622.2 577.0,621.5 580.0,624.0 583.8,625.5 587.5,624.0 593.8,619.8 597.5,621.5 602.5,619.0 607.5,619.2 612.5,617.2 617.5,616.8 621.2,619.0 625.5,618.0 629.5,617.2 632.5,619.0 637.5,621.0 641.2,627.2 646.2,632.2 650.0,629.8 653.8,626.0 658.0,623.0 661.2,621.8 665.0,624.0 668.8,623.0 673.0,619.8 677.5,616.0 681.2,618.0 685.0,616.5 689.2,614.8 692.5,621.0 696.2,628.0 700.5,633.0 705.0,643.5 709.2,636.0 713.8,632.2 717.5,634.2 722.0,638.0 725.5,638.5 730.0,634.0 733.8,632.2 737.5,633.5 742.5,632.2 746.2,631.5 752.5,631.5 757.5,629.0 760.8,628.0 765.0,630.5 770.0,628.0 773.8,625.5 777.5,624.8 781.2,626.0 785.0,626.0 788.8,630.5 793.8,631.0 797.5,632.2 800.0,629.8 805.0,632.2 809.5,631.0 813.8,629.0 817.5,627.2 821.2,636.0 825.0,642.2 829.5,647.8 833.8,647.2 837.5,646.8 841.2,653.0 845.5,659.8 848.8,654.0 853.0,653.0 857.0,645.5 861.2,641.0 865.0,637.2 872.5,634.8 880.0,633.0 886.2,633.0 891.2,629.8 896.2,628.0 901.2,626.8 906.2,625.5 912.5,625.5 917.0,623.0 921.2,626.0 925.0,626.0 929.2,627.2 933.8,623.5 937.5,622.2 940.8,621.5" fill="none" stroke="#ff0000" stroke-width="1" />
<polyline points="0.0,634.8 5.0,629.8 10.0,623.0 15.0,621.5 21.2,621.0 25.0,628.5 28.8,636.0 32.5,637.2 37.5,632.2 42.5,630.5 46.2,627.2 52.5,622.2 60.0,617.2 65.0,616.0 68.8,618.0 75.0,615.5 81.2,615.5 85.0,619.0 90.0,616.0 95.0,613.0 98.8,614.0 102.5,623.5 107.5,630.5 113.0,639.2 117.5,633.5 122.5,626.0 127.5,621.0 132.5,618.5 137.5,616.5 141.8,617.2 145.0,625.5 150.0,626.0 155.0,625.5 158.0,628.5 161.2,623.5 165.0,628.5 170.0,642.2 177.5,660.5 182.0,650.5 187.0,653.5 192.5,661.8 197.5,654.8 201.2,659.0 206.2,654.8 210.0,644.8 213.8,642.2 217.5,644.2 221.2,650.5 226.2,654.8 231.2,659.8 236.2,664.8 241.2,666.0 246.2,663.0 249.5,658.5 253.0,660.5 257.0,665.5 261.2,662.2 266.2,660.5 273.8,660.2 277.5,653.5 280.0,649.8 285.0,644.0 292.5,639.8 296.2,646.0 301.2,652.2 308.8,653.5 313.8,659.8 320.0,662.2 325.5,665.5 330.0,661.0 333.8,657.2 338.0,659.0 342.5,653.5 345.5,648.5 352.5,648.0 361.2,649.0 365.0,657.2 370.0,660.2 373.8,659.0 377.5,651.5 382.5,645.5 387.5,637.2 392.5,634.2 397.0,634.8 401.2,639.2 405.0,641.0 410.0,639.8 413.8,638.5 417.5,633.0 422.5,629.0 426.2,627.2 430.0,628.0 436.2,629.0 442.5,626.0 450.0,619.8 457.5,613.5 465.0,609.8 472.5,609.0 480.0,607.2 485.5,604.8 490.0,606.5 493.8,609.8 497.5,621.0 501.2,628.5 506.2,625.5 512.5,623.0 517.5,623.5 521.2,633.5 525.5,639.8 528.8,639.0 533.0,633.0 537.5,639.8 541.2,646.0 545.0,641.5 548.8,633.0 553.0,627.2 557.5,624.8 560.0,623.5 565.0,626.0 570.0,621.0 573.8,618.0 577.0,617.2 580.0,623.5 583.8,625.5 587.5,623.5 593.8,615.5 597.5,618.0 602.5,615.5 607.5,615.5 612.5,613.0 617.5,612.2 621.2,616.5 625.5,614.8 629.5,614.2 632.5,618.0 637.5,619.8 640.5,631.0 645.5,637.2 649.5,633.0 653.8,627.2 658.0,623.0 661.2,621.0 665.0,624.0 668.8,622.2 673.0,617.2 677.5,613.0 681.2,615.5 685.0,613.5 689.2,611.0 692.5,621.0 696.2,631.0 700.5,637.2 705.0,649.8 709.2,638.5 713.8,633.0 717.5,636.0 722.0,640.5 725.5,640.5 730.0,634.8 733.8,631.8 737.5,633.5 742.5,631.5 746.2,630.5 752.5,631.0 757.5,627.2 760.8,626.0 765.0,629.8 770.0,626.0 773.8,623.0 777.5,622.2 781.2,624.8 785.0,624.8 788.8,631.0 793.8,631.0 797.5,633.5 800.0,628.5 805.0,633.0 809.5,631.5 813.8,628.0 817.5,626.0 821.2,639.8 825.0,648.5 829.5,654.8 833.8,653.5 837.5,653.0 841.2,661.0 845.0,668.5 848.8,659.8 853.0,658.0 856.2,646.0 861.2,639.8 865.0,636.0 872.5,633.0 880.0,630.5 885.0,631.0 890.0,627.2 895.0,623.5 900.0,622.2 905.0,620.2 912.5,619.8 916.2,617.2 921.2,623.0 925.0,622.2 929.2,623.5 933.8,619.8 937.5,617.2 940.8,615.5" fill="none" stroke="#0000ff" stroke-width="1" />
</g>
<g clip-path="url(#cd)">
<g shape-rendering="crispEdges">
<rect x="0.0" y="755.0" width="3" height="7.0" fill="#ffa07a"/>
<rect x="4.0" y="753.0" width="3" height="2.0" fill="#1e90ff"/>
<rect x="8.0" y="746.2" width="3" height="8.8" fill="#1e90ff"/>
<rect x="12.0" y="743.0" width="3" height="12.0" fill="#1e90ff"/>
<rect x="16.0" y="747.5" width="3" height="7.5" fill="#1e90ff"/>
<rect x="20.0" y="751.2" width="3" height="3.8" fill="#1e90ff"/>
<rect x="24.0" y="755.0" width="3" height="3.0" fill="#ffa07a"/>
<rect x="28.0" y="755.0" width="3" height="9.5" fill="#ffa07a"/>
<rect x="32.0" y="755.0" width="3" height="9.5" fill="#ffa07a"/>
<rect x="36.0" y="755.0" width="3" height="5.0" fill="#ffa07a"/>
<rect x="40.0" y="755.0" width="3" height="2.0" fill="#ffa07a"/>
<rect x="44.0" y="752.5" width="3" height="2.5" fill="#1e90ff"/>
<rect x="48.0" y="752.5" width="3" height="2.5" fill="#1e90ff"/>
<rect x="52.0" y="749.2" width="3" height="5.8" fill="#1e90ff"/>
<rect x="56.0" y="745.0" width="3" height="10.0" fill="#1e90ff"/>
<rect x="60.0" y="745.0" width="3" height="10.0" fill="#1e90ff"/>
<rect x="64.0" y="751.2" width="3" height="3.8" fill="#1e90ff"/>
<rect x="68.0" y="749.0" width="3" height="6.0" fill="#1e90ff"/>
<rect x="72.0" y="753.0" width="3" height="2.0" fill="#1e90ff"/>
<rect x="76.0" y="754.0" width="3" height="1.0" fill="#1e90ff"/>
<rect x="80.0" y="755.0" width="3" height="1.5" fill="#ffa07a"/>
<rect x="84.0" y="755.0" width="3" height="3.8" fill="#ffa07a"/>
<rect x="88.0" y="754.2" width="3" height="0.8" fill="#1e90ff"/>
<rect x="92.0" y="752.0" width="3" height="3.0" fill="#1e90ff"/>
<rect x="96.0" y="755.0" width="3" height="1.5" fill="#ffa07a"/>
<rect x="100.0" y="755.0" width="3" height="6.2" fill="#ffa07a"/>
<rect x="104.0" y="755.0" width="3" height="8.0" fill="#ffa07a"/>
<rect x="108.0" y="755.0" width="3" height="14.5" fill="#ffa07a"/>
<rect x="112.0" y="755.0" width="3" height="14.5" fill="#ffa07a"/>
<rect x="116.0" y="755.0" width="3" height="7.0" fill="#ffa07a"/>
<rect x="120.0" y="755.0" width="3" height="2.0" fill="#ffa07a"/>
<rect x="124.0" y="745.0" width="3" height="10.0" fill="#1e90ff"/>
<rect x="128.0" y="742.5" width="3" height="12.5" fill="#1e90ff"/>
<rect x="132.0" y="744.2" width="3" height="10.8" fill="#1e90ff"/>
<rect x="136.0" y="743.0" width="3" height="12.0" fill="#1e90ff"/>
<rect x="140.0" y="754.0" width="3" height="1.0" fill="#1e90ff"/>
<rect x="144.0" y="755.0" width="3" height="10.5" fill="#ffa07a"/>
<rect x="148.0" y="755.0" width="3" height="4.5" fill="#ffa07a"/>
<rect x="152.0" y="755.0" width="3" height="8.8" fill="#ffa07a"/>
<rect x="156.0" y="755.0" width="3" height="2.5" fill="#ffa07a"/>
<rect x="160.0" y="755.0" width="3" height="1.0" fill="#ffa07a"/>
<rect x="164.0" y="755.0" width="3" height="12.0" fill="#ffa07a"/>
<rect x="168.0" y="755.0" width="3" height="12.5" fill="#ffa07a"/>
<rect x="172.0" y="755.0" width="3" height="27.5" fill="#ffa07a"/>
<rect x="176.0" y="755.0" width="3" height="25.5" fill="#ffa07a"/>
<rect x="180.0" y="755.0" width="3" height="17.5" fill="#ffa07a"/>
<rect x="184.0" y="755.0" width="3" height="13.8" fill="#ffa07a"/>
<rect x="188.0" y="755.0" width="3" height="12.5" fill="#ffa07a"/>
<rect x="192.0" y="755.0" width="3" height="6.2" fill="#ffa07a"/>
<rect x="196.0" y="755.0" width="3" height="5.0" fill="#ffa07a"/>
<rect x="200.0" y="755.0" width="3" height="9.5" fill="#ffa07a"/>
<rect x="204.0" y="745.0" width="3" height="10.0" fill="#1e90ff"/>
<rect x="208.0" y="736.2" width="3" height="18.8" fill="#1e90ff"/>
<rect x="212.0" y="734.2" width="3" height="20.8" fill="#1e90ff"/>
<rect x="216.0" y="745.0" width="3" height="10.0" fill="#1e90ff"/>
<rect x="220.0" y="755.0" width="3" height="1.0" fill="#ffa07a"/>
<rect x="224.0" y="755.0" width="3" height="11.2" fill="#ffa07a"/>
<rect x="228.0" y="755.0" width="3" height="16.2" fill="#ffa07a"/>
<rect x="232.0" y="755.0" width="3" height="16.2" fill="#ffa07a"/>
<rect x="236.0" y="755.0" width="3" height="16.2" fill="#ffa07a"/>
<rect x="240.0" y="755.0" width="3" height="17.5" fill="#ffa07a"/>
<rect x="244.0" y="754.0" width="3" height="1.0" fill="#1e90ff"/>
<rect x="248.0" y="749.0" width="3" height="6.0" fill="#1e90ff"/>
<rect x="252.0" y="755.0" width="3" height="2.0" fill="#ffa07a"/>
<rect x="256.0" y="755.0" width="3" height="9.5" fill="#ffa07a"/>
<rect x="260.0" y="750.0" width="3" height="5.0" fill="#1e90ff"/>
<rect x="264.0" y="752.0" width="3" height="3.0" fill="#1e90ff"/>
<rect x="268.0" y="743.0" width="3" height="12.0" fill="#1e90ff"/>
<rect x="272.0" y="743.0" width="3" height="12.0" fill="#1e90ff"/>
<rect x="276.0" y="738.0" width="3" height="17.0" fill="#1e90ff"/>
<rect x="280.0" y="731.2" width="3" height="23.8" fill="#1e90ff"/>
<rect x="284.0" y="730.0" width="3" height="25.0" fill="#1e90ff"/>
<rect x="288.0" y="730.0" width="3" height="25.0" fill="#1e90ff"/>
<rect x="292.0" y="740.0" width="3" height="15.0" fill="#1e90ff"/>
<rect x="296.0" y="755.0" width="3" height="1.2" fill="#ffa07a"/>
<rect x="300.0" y="755.0" width="3" height="13.0" fill="#ffa07a"/>
<rect x="304.0" y="755.0" width="3" height="6.2" fill="#ffa07a"/>
<rect x="308.0" y="755.0" width="3" height="11.2" fill="#ffa07a"/>
<rect x="312.0" y="755.0" width="3" height="20.0" fill="#ffa07a"/>
<rect x="316.0" y="755.0" width="3" height="17.0" fill="#ffa07a"/>
<rect x="320.0" y="755.0" width="3" height="17.0" fill="#ffa07a"/>
<rect x="324.0" y="755.0" width="3" height="15.0" fill="#ffa07a"/>
<rect x="328.0" y="754.0" width="3" height="1.0" fill="#1e90ff"/>
<rect x="332.0" y="745.0" width="3" height="10.0" fill="#1e90ff"/>
<rect x="336.0" y="753.0" width="3" height="2.0" fill="#1e90ff"/>
<rect x="340.0" y="741.2" width="3" height="13.8" fill="#1e90ff"/>
<rect x="344.0" y="741.2" width="3" height="13.8" fill="#1e90ff"/>
<rect x="348.0" y="742.0" width="3" height="13.0" fill="#1e90ff"/>
<rect x="352.0" y="742.0" width="3" height="13.0" fill="#1e90ff"/>
<rect x="356.0" y="750.0" width="3" height="5.0" fill="#1e90ff"/>
<rect x="360.0" y="755.0" width="3" height="5.0" fill="#ffa07a"/>
<rect x="364.0" y="755.0" width="3" height="10.5" fill="#ffa07a"/>
<rect x="368.0" y="755.0" width="3" height="10.5" fill="#ffa07a"/>
<rect x="372.0" y="755.0" width="3" height="8.8" fill="#ffa07a"/>
<rect x="376.0" y="748.8" width="3" height="6.2" fill="#1e90ff"/>
<rect x="380.0" y="746.2" width="3" height="8.8" fill="#1e90ff"/>
<rect x="384.0" y="738.8" width="3" height="16.2" fill="#1e90ff"/>
<rect x="388.0" y="735.0" width="3" height="20.0" fill="#1e90ff"/>
<rect x="392.0" y="743.0" width="3" height="12.0" fill="#1e90ff"/>
<rect x="396.0" y="747.0" width="3" height="8.0" fill="#1e90ff"/>
<rect x="400.0" y="755.0" width="3" height="1.5" fill="#ffa07a"/>
<rect x="404.0" y="755.0" width="3" height="1.5" fill="#ffa07a"/>
<rect x="408.0" y="755.0" width="3" height="6.8" fill="#ffa07a"/>
<rect x="412.0" y="754.2" width="3" height="0.8" fill="#1e90ff"/>
<rect x="416.0" y="748.0" width="3" height="7.0" fill="#1e90ff"/>
<rect x="420.0" y="744.0" width="3" height="11.0" fill="#1e90ff"/>
<rect x="424.0" y="747.5" width="3" height="7.5" fill="#1e90ff"/>
<rect x="428.0" y="751.2" width="3" height="3.8" fill="#1e90ff"/>
<rect x="432.0" y="755.0" width="3" height="1.0" fill="#ffa07a"/>
<rect x="436.0" y="755.0" width="3" height="0.8" fill="#ffa07a"/>
<rect x="440.0" y="755.0" width="3" height="1.5" fill="#ffa07a"/>
<rect x="444.0" y="755.0" width="3" height="1.8" fill="#ffa07a"/>
<rect x="448.0" y="751.2" width="3" height="3.8" fill="#1e90ff"/>
<rect x="452.0" y="744.5" width="3" height="10.5" fill="#1e90ff"/>
<rect x="456.0" y="743.0" width="3" height="12.0" fill="#1e90ff"/>
<rect x="460.0" y="747.0" width="3" height="8.0" fill="#1e90ff"/>
<rect x="464.0" y="744.2" width="3" height="10.8" fill="#1e90ff"/>
<rect x="468.0" y="751.2" width="3" height="3.8" fill="#1e90ff"/>
<rect x="472.0" y="753.2" width="3" height="1.8" fill="#1e90ff"/>
<rect x="476.0" y="755.0" width="3" height="3.8" fill="#ffa07a"/>
<rect x="480.0" y="754.2" width="3" height="0.8" fill="#1e90ff"/>
<rect x="484.0" y="755.0" width="3" height="2.5" fill="#ffa07a"/>
<rect x="488.0" y="755.0" width="3" height="1.0" fill="#ffa07a"/>
<rect x="492.0" y="755.0" width="3" height="9.5" fill="#ffa07a"/>
<rect x="496.0" y="755.0" width="3" height="16.2" fill="#ffa07a"/>
<rect x="500.0" y="755.0" width="3" height="20.5" fill="#ffa07a"/>
<rect x="504.0" y="755.0" width="3" height="16.2" fill="#ffa07a"/>
<rect x="508.0" y="755.0" width="3" height="5.0" fill="#ffa07a"/>
<rect x="512.0" y="755.0" width="3" height="3.8" fill="#ffa07a"/>
<rect x="516.0" y="755.0" width="3" height="4.5" fill="#ffa07a"/>
<rect x="520.0" y="755.0" width="3" height="13.0" fill="#ffa07a"/>
<rect x="524.0" y="755.0" width="3" height="12.0" fill="#ffa07a"/>
<rect x="528.0" y="755.0" width="3" height="5.8" fill="#ffa07a"/>
<rect x="532.0" y="755.0" width="3" height="3.8" fill="#ffa07a"/>
<rect x="536.0" y="755.0" width="3" height="7.5" fill="#ffa07a"/>
<rect x="540.0" y="755.0" width="3" height="13.0" fill="#ffa07a"/>
<rect x="544.0" y="753.5" width="3" height="1.5" fill="#1e90ff"/>
<rect x="548.0" y="743.0" width="3" height="12.0" fill="#1e90ff"/>
<rect x="552.0" y="738.0" width="3" height="17.0" fill="#1e90ff"/>
<rect x="556.0" y="741.2" width="3" height="13.8" fill="#1e90ff"/>
<rect x="560.0" y="743.0" width="3" height="12.0" fill="#1e90ff"/>
<rect x="564.0" y="745.8" width="3" height="9.2" fill="#1e90ff"/>
<rect x="568.0" y="743.0" width="3" height="12.0" fill="#1e90ff"/>
<rect x="572.0" y="744.5" width="3" height="10.5" fill="#1e90ff"/>
<rect x="576.0" y="748.8" width="3" height="6.2" fill="#1e90ff"/>
<rect x="580.0" y="755.0" width="3" height="5.0" fill="#ffa07a"/>
<rect x="584.0" y="755.0" width="3" height="3.0" fill="#ffa07a"/>
<rect x="588.0" y="750.0" width="3" height="5.0" fill="#1e90ff"/>
<rect x="592.0" y="750.8" width="3" height="4.2" fill="#1e90ff"/>
<rect x="596.0" y="750.0" width="3" height="5.0" fill="#1e90ff"/>
<rect x="600.0" y="748.2" width="3" height="6.8" fill="#1e90ff"/>
<rect x="604.0" y="755.0" width="3" height="0.8" fill="#ffa07a"/>
<rect x="608.0" y="755.0" width="3" height="1.5" fill="#ffa07a"/>
<rect x="612.0" y="753.2" width="3" height="1.8" fill="#1e90ff"/>
<rect x="616.0" y="755.0" width="3" height="3.8" fill="#ffa07a"/>
<rect x="620.0" y="755.0" width="3" height="9.5" fill="#ffa07a"/>
<rect x="624.0" y="755.0" width="3" height="5.0" fill="#ffa07a"/>
<rect x="628.0" y="755.0" width="3" height="5.0" fill="#ffa07a"/>
<rect x="632.0" y="755.0" width="3" height="7.5" fill="#ffa07a"/>
<rect x="636.0" y="755.0" width="3" height="10.0" fill="#ffa07a"/>
<rect x="640.0" y="755.0" width="3" height="23.8" fill="#ffa07a"/>
<rect x="644.0" y="755.0" width="3" height="13.8" fill="#ffa07a"/>
<rect x="648.0" y="755.0" width="3" height="5.8" fill="#ffa07a"/>
<rect x="652.0" y="754.0" width="3" height="1.0" fill="#1e90ff"/>
<rect x="656.0" y="747.5" width="3" height="7.5" fill="#1e90ff"/>
<rect x="660.0" y="744.5" width="3" height="10.5" fill="#1e90ff"/>
<rect x="664.0" y="750.5" width="3" height="4.5" fill="#1e90ff"/>
<rect x="668.0" y="747.5" width="3" height="7.5" fill="#1e90ff"/>
<rect x="672.0" y="740.0" width="3" height="15.0" fill="#1e90ff"/>
<rect x="676.0" y="742.0" width="3" height="13.0" fill="#1e90ff"/>
<rect x="680.0" y="747.5" width="3" height="7.5" fill="#1e90ff"/>
<rect x="684.0" y="743.0" width="3" height="12.0" fill="#1e90ff"/>
<rect x="688.0" y="747.5" width="3" height="7.5" fill="#1e90ff"/>
<rect x="692.0" y="755.0" width="3" height="9.5" fill="#ffa07a"/>
<rect x="696.0" y="755.0" width="3" height="21.2" fill="#ffa07a"/>
<rect x="700.0" y="755.0" width="3" height="31.8" fill="#ffa07a"/>
<rect x="704.0" y="755.0" width="3" height="26.2" fill="#ffa07a"/>
<rect x="708.0" y="755.0" width="3" height="6.8" fill="#ffa07a"/>
<rect x="712.0" y="750.8" width="3" height="4.2" fill="#1e90ff"/>
<rect x="716.0" y="751.2" width="3" height="3.8" fill="#1e90ff"/>
<rect x="720.0" y="755.0" width="3" height="14.5" fill="#ffa07a"/>
<rect x="724.0" y="755.0" width="3" height="1.5" fill="#ffa07a"/>
<rect x="728.0" y="751.2" width="3" height="3.8" fill="#1e90ff"/>
<rect x="732.0" y="747.0" width="3" height="8.0" fill="#1e90ff"/>
<rect x="736.0" y="746.2" width="3" height="8.8" fill="#1e90ff"/>
<rect x="740.0" y="746.2" width="3" height="8.8" fill="#1e90ff"/>
<rect x="744.0" y="747.5" width="3" height="7.5" fill="#1e90ff"/>
<rect x="748.0" y="750.8" width="3" height="4.2" fill="#1e90ff"/>
<rect x="752.0" y="755.0" width="3" height="3.8" fill="#ffa07a"/>
<rect x="756.0" y="745.0" width="3" height="10.0" fill="#1e90ff"/>
<rect x="760.0" y="755.0" width="3" height="0.8" fill="#ffa07a"/>
<rect x="764.0" y="754.0" width="3" height="1.0" fill="#1e90ff"/>
<rect x="768.0" y="753.2" width="3" height="1.8" fill="#1e90ff"/>
<rect x="772.0" y="746.2" width="3" height="8.8" fill="#1e90ff"/>
<rect x="776.0" y="745.0" width="3" height="10.0" fill="#1e90ff"/>
<rect x="780.0" y="755.0" width="3" height="1.5" fill="#ffa07a"/>
<rect x="784.0" y="755.0" width="3" height="3.8" fill="#ffa07a"/>
<rect x="788.0" y="755.0" width="3" height="7.5" fill="#ffa07a"/>
<rect x="792.0" y="755.0" width="3" height="15.8" fill="#ffa07a"/>
<rect x="796.0" y="755.0" width="3" height="7.5" fill="#ffa07a"/>
<rect x="800.0" y="754.0" width="3" height="1.0" fill="#1e90ff"/>
<rect x="804.0" y="755.0" width="3" height="2.5" fill="#ffa07a"/>
<rect x="808.0" y="755.0" width="3" height="5.0" fill="#ffa07a"/>
<rect x="812.0" y="750.0" width="3" height="5.0" fill="#1e90ff"/>
<rect x="816.0" y="755.0" width="3" height="2.5" fill="#ffa07a"/>
<rect x="820.0" y="755.0" width="3" height="15.8" fill="#ffa07a"/>
<rect x="824.0" y="755.0" width="3" height="26.2" fill="#ffa07a"/>
<rect x="828.0" y="755.0" width="3" height="31.8" fill="#ffa07a"/>
<rect x="832.0" y="755.0" width="3" height="27.5" fill="#ffa07a"/>
<rect x="836.0" y="755.0" width="3" height="28.8" fill="#ffa07a"/>
<rect x="840.0" y="755.0" width="3" height="41.2" fill="#ffa07a"/>
<rect x="844.0" y="755.0" width="3" height="17.5" fill="#ffa07a"/>
<rect x="848.0" y="755.0" width="3" height="9.5" fill="#ffa07a"/>
<rect x="852.0" y="740.0" width="3" height="15.0" fill="#1e90ff"/>
<rect x="856.0" y="724.2" width="3" height="30.8" fill="#1e90ff"/>
<rect x="860.0" y="724.2" width="3" height="30.8" fill="#1e90ff"/>
<rect x="864.0" y="711.8" width="3" height="43.2" fill="#1e90ff"/>
<rect x="868.0" y="724.2" width="3" height="30.8" fill="#1e90ff"/>
<rect x="872.0" y="728.0" width="3" height="27.0" fill="#1e90ff"/>
<rect x="876.0" y="730.5" width="3" height="24.5" fill="#1e90ff"/>
<rect x="880.0" y="739.5" width="3" height="15.5" fill="#1e90ff"/>
<rect x="884.0" y="747.0" width="3" height="8.0" fill="#1e90ff"/>
<rect x="888.0" y="741.2" width="3" height="13.8" fill="#1e90ff"/>
<rect x="892.0" y="741.2" width="3" height="13.8" fill="#1e90ff"/>
<rect x="896.0" y="747.0" width="3" height="8.0" fill="#1e90ff"/>
<rect x="900.0" y="748.0" width="3" height="7.0" fill="#1e90ff"/>
<rect x="904.0" y="750.0" width="3" height="5.0" fill="#1e90ff"/>
<rect x="908.0" y="755.0" width="3" height="7.5" fill="#ffa07a"/>
<rect x="912.0" y="754.0" width="3" height="1.0" fill="#1e90ff"/>
<rect x="916.0" y="754.0" width="3" height="1.0" fill="#1e90ff"/>
<rect x="920.0" y="755.0" width="3" height="5.8" fill="#ffa07a"/>
<rect x="924.0" y="755.0" width="3" height="10.5" fill="#ffa07a"/>
<rect x="928.0" y="755.0" width="3" height="8.8" fill="#ffa07a"/>
<rect x="932.0" y="755.0" width="3" height="2.5" fill="#ffa07a"/>
<rect x="936.0" y="750.0" width="3" height="5.0" fill="#1e90ff"/>
<rect x="940.0" y="749.0" width="3" height="6.0" fill="#1e90ff"/>
</g>
<polyline points="0.0,751.2 5.0,748.8 10.0,742.5 13.8,738.0 17.5,737.5 21.2,737.5 25.0,741.2 28.8,745.0 33.8,747.5 40.0,747.5 46.2,745.5 52.5,741.2 57.5,735.8 62.5,733.8 68.8,732.0 75.0,732.0 81.2,733.0 87.5,733.8 96.2,733.8 100.0,736.2 105.0,740.0 108.8,746.2 112.5,750.0 117.5,750.8 121.2,750.0 125.0,745.0 128.8,737.5 133.8,733.2 137.0,731.2 140.5,732.5 144.5,738.8 148.8,740.0 153.0,742.5 160.0,742.5 165.0,746.2 170.0,752.5 172.5,762.5 176.2,773.8 181.2,777.5 186.2,782.0 190.0,783.8 195.0,784.5 201.2,788.8 205.0,781.2 210.0,768.8 213.8,763.8 217.5,763.8 221.2,767.5 225.0,772.5 230.0,781.2 236.2,788.8 241.2,796.8 245.0,791.2 248.8,788.0 252.5,790.5 257.0,795.0 261.2,789.5 265.0,788.8 270.0,782.5 275.0,776.2 280.0,766.2 285.0,753.8 290.0,743.8 293.8,743.8 297.5,748.8 301.2,756.2 305.0,756.2 308.8,763.8 313.8,772.5 317.5,778.8 321.2,783.2 325.5,785.8 328.8,782.5 332.5,776.2 337.5,776.2 341.2,768.8 346.2,763.0 352.5,756.2 357.5,757.0 362.5,762.0 367.5,765.5 373.0,767.0 377.5,763.0 381.2,760.0 385.0,750.0 388.8,743.8 393.8,740.0 398.8,740.0 402.5,741.2 407.5,745.5 411.2,745.0 416.2,740.0 421.2,734.2 427.5,733.0 432.5,735.0 440.0,735.0 446.2,735.5 451.2,730.0 457.5,723.0 465.0,718.2 472.5,718.0 480.0,719.5 487.5,720.0 492.5,723.8 497.5,732.5 501.2,740.5 505.0,743.8 510.0,743.0 516.2,743.8 521.2,750.0 526.2,753.0 532.5,753.2 537.5,758.0 541.2,763.8 545.0,757.0 550.0,748.8 555.0,741.2 560.0,737.5 565.0,733.8 570.0,729.5 573.8,726.2 577.5,726.2 581.2,729.5 586.2,729.5 590.0,726.2 595.0,724.5 600.0,721.2 605.0,722.5 613.8,722.5 620.0,727.5 626.2,729.5 632.5,732.5 637.5,738.8 641.2,750.0 646.2,750.8 651.2,748.8 656.2,743.8 661.2,738.8 665.0,738.8 670.0,733.8 675.0,725.0 680.0,722.5 685.0,718.0 688.8,717.5 692.5,722.5 696.2,735.0 700.0,747.5 705.0,757.0 710.0,748.8 713.8,747.0 717.5,747.0 721.2,756.2 726.2,752.5 731.2,746.2 736.2,742.5 741.2,738.0 746.2,736.2 752.5,737.0 757.5,732.0 762.5,733.8 768.8,733.8 773.8,726.2 778.8,725.5 782.5,728.8 787.5,732.5 792.5,740.0 798.8,740.0 800.0,740.0 805.0,740.0 810.0,740.0 813.8,738.0 817.5,740.0 821.2,750.0 825.0,762.5 828.8,772.5 832.5,777.5 837.5,786.2 840.5,807.0 845.0,805.0 850.0,803.0 853.0,790.0 856.2,777.5 860.0,767.5 863.8,750.0 867.5,741.2 872.5,731.2 877.5,724.5 885.0,722.5 888.8,717.5 893.8,712.0 900.0,710.5 906.2,709.5 908.8,714.5 912.5,713.8 916.2,712.0 920.0,713.8 923.8,718.0 927.5,722.0 931.2,722.5 935.0,718.8 938.8,716.2 941.5,717.0" fill="none" stroke="#0000cd" stroke-width="2" stroke-linejoin="round"/>
<polyline points="0.0,752.5 5.0,750.0 10.0,745.5 15.0,741.2 20.0,739.2 23.8,738.8 27.5,741.2 32.5,745.0 37.5,747.0 43.8,747.0 50.0,745.0 56.2,740.8 62.5,736.2 68.8,733.2 75.0,732.0 81.2,732.5 87.5,733.0 96.2,732.5 101.2,734.5 106.2,738.0 110.0,743.0 113.8,747.5 118.8,748.8 122.5,748.0 126.2,745.5 130.0,741.2 135.0,736.2 138.8,733.8 142.5,736.2 146.2,738.8 151.2,740.0 156.2,740.8 161.2,741.2 166.2,745.0 171.2,752.5 175.0,762.5 178.8,770.0 183.8,776.2 188.8,780.5 193.8,782.0 198.8,785.0 202.5,786.2 206.2,780.0 211.2,771.2 216.2,766.2 220.0,765.5 223.8,768.8 228.8,775.0 235.0,783.8 241.2,792.0 246.2,790.5 250.0,788.8 253.8,789.5 258.8,792.0 262.5,790.5 267.5,787.5 272.5,782.5 277.5,776.2 280.0,770.0 285.0,760.0 290.0,751.2 295.0,746.2 300.0,751.2 305.0,755.5 310.0,762.5 315.0,771.2 320.0,777.5 325.0,782.0 330.0,781.2 333.8,778.0 338.0,778.0 342.5,772.0 347.5,765.5 352.5,760.0 357.5,758.0 362.5,760.0 367.5,764.5 373.0,766.2 378.0,764.5 382.5,760.0 386.2,753.8 390.0,747.5 395.0,743.0 400.0,742.0 405.0,742.0 410.0,743.8 415.0,743.0 420.0,738.8 425.0,735.0 431.2,733.8 437.5,734.5 443.8,735.0 448.8,734.5 453.8,729.5 460.0,723.8 466.2,720.0 473.8,719.0 481.2,719.0 488.8,720.0 493.8,722.5 498.8,730.0 502.5,737.0 506.2,740.5 511.2,742.0 516.2,743.0 521.2,747.5 526.2,752.0 532.5,753.2 537.5,757.0 541.2,761.2 545.0,758.0 550.0,752.5 555.0,745.0 560.0,740.5 565.0,736.2 570.0,732.5 575.0,728.8 580.0,728.0 585.0,728.8 590.0,727.0 595.0,725.0 600.0,723.0 605.0,722.0 613.8,722.5 620.0,725.0 626.2,727.5 632.5,730.5 637.5,735.0 642.5,743.8 647.5,748.0 652.5,747.5 657.5,744.5 662.5,740.5 667.5,738.8 672.5,733.8 677.5,727.5 682.5,723.0 687.5,719.5 691.2,721.2 695.0,727.5 698.8,737.5 703.8,747.5 708.8,751.2 713.8,750.0 718.8,750.0 722.5,753.0 727.5,751.2 732.5,747.5 737.5,743.0 742.5,739.5 747.5,737.5 753.8,736.2 758.8,733.8 763.8,733.8 770.0,733.0 775.0,728.0 780.0,726.2 783.8,728.0 788.8,731.2 793.8,736.2 798.8,738.0 800.0,738.0 805.0,739.5 811.2,738.8 815.0,738.0 818.8,741.2 822.5,748.8 826.2,760.0 830.0,768.8 833.8,775.0 837.5,783.8 841.2,795.0 845.0,800.0 850.0,802.0 853.8,795.0 857.5,785.0 861.2,775.0 865.0,761.2 868.8,750.0 872.5,741.2 876.2,735.0 881.2,728.8 886.2,725.0 891.2,719.5 897.5,714.5 903.8,711.2 910.0,712.0 916.2,712.0 920.0,713.8 923.8,717.0 927.5,720.0 931.2,721.2 935.0,719.5 938.8,718.0 941.5,718.0" fill="none" stroke="#ff8c00" stroke-width="2" stroke-linejoin="round"/>
</g>
<ellipse cx="941.2" cy="741" rx="47.5" ry="44" fill="none" stroke="#f94c4c" stroke-width="2"/>
<line x1="1087.0" y1="76.5" x2="1090.5" y2="76.5" stroke="#000" stroke-width="1" shape-rendering="crispEdges"/>
<text x="1095" y="81.0" font-family="Liberation Sans, sans-serif" font-size="12.4" fill="#000" stroke="#000" stroke-width="0.25" text-anchor="start">23517.25</text>
<line x1="1087.0" y1="125.5" x2="1090.5" y2="125.5" stroke="#000" stroke-width="1" shape-rendering="crispEdges"/>
<text x="1095" y="130.0" font-family="Liberation Sans, sans-serif" font-size="12.4" fill="#000" stroke="#000" stroke-width="0.25" text-anchor="start">21659.75</text>
<line x1="1087.0" y1="174.5" x2="1090.5" y2="174.5" stroke="#000" stroke-width="1" shape-rendering="crispEdges"/>
<text x="1095" y="179.0" font-family="Liberation Sans, sans-serif" font-size="12.4" fill="#000" stroke="#000" stroke-width="0.25" text-anchor="start">19839.40</text>
<line x1="1087.0" y1="223.5" x2="1090.5" y2="223.5" stroke="#000" stroke-width="1" shape-rendering="crispEdges"/>
<text x="1095" y="228.0" font-family="Liberation Sans, sans-serif" font-size="12.4" fill="#000" stroke="#000" stroke-width="0.25" text-anchor="start">18019.05</text>
<line x1="1087.0" y1="272.5" x2="1090.5" y2="272.5" stroke="#000" stroke-width="1" shape-rendering="crispEdges"/>
<text x="1095" y="277.0" font-family="Liberation Sans, sans-serif" font-size="12.4" fill="#000" stroke="#000" stroke-width="0.25" text-anchor="start">16198.70</text>
<line x1="1087.0" y1="321.5" x2="1090.5" y2="321.5" stroke="#000" stroke-width="1" shape-rendering="crispEdges"/>
<text x="1095" y="326.0" font-family="Liberation Sans, sans-serif" font-size="12.4" fill="#000" stroke="#000" stroke-width="0.25" text-anchor="start">14378.35</text>
<line x1="1087.0" y1="370.5" x2="1090.5" y2="370.5" stroke="#000" stroke-width="1" shape-rendering="crispEdges"/>
<text x="1095" y="375.0" font-family="Liberation Sans, sans-serif" font-size="12.4" fill="#000" stroke="#000" stroke-width="0.25" text-anchor="start">12520.85</text>
<line x1="1087.0" y1="419.5" x2="1090.5" y2="419.5" stroke="#000" stroke-width="1" shape-rendering="crispEdges"/>
<text x="1095" y="424.0" font-family="Liberation Sans, sans-serif" font-size="12.4" fill="#000" stroke="#000" stroke-width="0.25" text-anchor="start">10700.50</text>
<line x1="1087.0" y1="468.5" x2="1090.5" y2="468.5" stroke="#000" stroke-width="1" shape-rendering="crispEdges"/>
<text x="1095" y="473.0" font-family="Liberation Sans, sans-serif" font-size="12.4" fill="#000" stroke="#000" stroke-width="0.25" text-anchor="start">8880.15</text>
<line x1="1087.0" y1="517.5" x2="1090.5" y2="517.5" stroke="#000" stroke-width="1" shape-rendering="crispEdges"/>
<text x="1095" y="522.0" font-family="Liberation Sans, sans-serif" font-size="12.4" fill="#000" stroke="#000" stroke-width="0.25" text-anchor="start">7059.80</text>
<line x1="1087.0" y1="566.5" x2="1090.5" y2="566.5" stroke="#000" stroke-width="1" shape-rendering="crispEdges"/>
<text x="1095" y="571.0" font-family="Liberation Sans, sans-serif" font-size="12.4" fill="#000" stroke="#000" stroke-width="0.25" text-anchor="start">5239.45</text>
<text x="1095" y="33" font-family="Liberation Sans, sans-serif" font-size="12.4" fill="#000" stroke="#000" stroke-width="0.25" text-anchor="start">25337.60</text>
<rect x="1089" y="5" width="63" height="13" fill="#ff0000" shape-rendering="crispEdges"/>
<text x="1095" y="16.5" font-family="Liberation Sans, sans-serif" font-size="12.4" fill="#fff" stroke="#fff" stroke-width="0.25" text-anchor="start">25911.32</text>
<rect x="1089" y="17" width="63" height="13" fill="#ff0000" shape-rendering="crispEdges"/>
<text x="1095" y="28.5" font-family="Liberation Sans, sans-serif" font-size="12.4" fill="#fff" stroke="#fff" stroke-width="0.25" text-anchor="start">25501.64</text>
<rect x="1089" y="34.8" width="63" height="14" fill="#000" shape-rendering="crispEdges"/>
<text x="1095" y="47.3" font-family="Liberation Sans, sans-serif" font-size="12.4" fill="#fff" stroke="#fff" stroke-width="0.25" text-anchor="start">24766.54</text>
<rect x="1089" y="93" width="63" height="14" fill="#ff0000" shape-rendering="crispEdges"/>
<text x="1095" y="105.5" font-family="Liberation Sans, sans-serif" font-size="12.4" fill="#fff" stroke="#fff" stroke-width="0.25" text-anchor="start">22633.90</text>
<rect x="1089" y="107" width="63" height="14" fill="#ff0000" shape-rendering="crispEdges"/>
<text x="1095" y="119.5" font-family="Liberation Sans, sans-serif" font-size="12.4" fill="#fff" stroke="#fff" stroke-width="0.25" text-anchor="start">22112.49</text>
<text x="1091" y="600" font-family="Liberation Sans, sans-serif" font-size="12.4" fill="#000" stroke="#000" stroke-width="0.25" text-anchor="start">100</text>
<text x="1090" y="649" font-family="Liberation Sans, sans-serif" font-size="12.4" fill="#000" stroke="#000" stroke-width="0.25" text-anchor="start">50</text>
<text x="1091" y="697.5" font-family="Liberation Sans, sans-serif" font-size="12.4" fill="#000" stroke="#000" stroke-width="0.25" text-anchor="start">0</text>
<rect x="1089" y="599" width="56" height="14" fill="#ff0000" shape-rendering="crispEdges"/>
<text x="1094" y="611" font-family="Liberation Sans, sans-serif" font-size="12.4" fill="#fff" stroke="#fff" stroke-width="0.25" text-anchor="start">85.0000</text>
<rect x="1089" y="616" width="56" height="14" fill="#ff0000" shape-rendering="crispEdges"/>
<text x="1094" y="628" font-family="Liberation Sans, sans-serif" font-size="12.4" fill="#fff" stroke="#fff" stroke-width="0.25" text-anchor="start">70.0000</text>
<rect x="1089" y="660" width="56" height="14" fill="#0000ff" shape-rendering="crispEdges"/>
<text x="1094" y="672" font-family="Liberation Sans, sans-serif" font-size="12.4" fill="#fff" stroke="#fff" stroke-width="0.25" text-anchor="start">30.0000</text>
<rect x="1089" y="677" width="56" height="14" fill="#0000ff" shape-rendering="crispEdges"/>
<text x="1094" y="689" font-family="Liberation Sans, sans-serif" font-size="12.4" fill="#fff" stroke="#fff" stroke-width="0.25" text-anchor="start">15.0000</text>
<text x="1091" y="716" font-family="Liberation Sans, sans-serif" font-size="12.4" fill="#000" stroke="#000" stroke-width="0.25" text-anchor="start">728.6113</text>
<text x="1091" y="760" font-family="Liberation Sans, sans-serif" font-size="12.4" fill="#000" stroke="#000" stroke-width="0.25" text-anchor="start">0.00</text>
<line x1="1087.0" y1="755.5" x2="1090.5" y2="755.5" stroke="#000" stroke-width="1" shape-rendering="crispEdges"/>
<text x="1091" y="809" font-family="Liberation Sans, sans-serif" font-size="12.4" fill="#000" stroke="#000" stroke-width="0.25" text-anchor="start">-803.2841</text>
<line x1="13.5" y1="812.0" x2="13.5" y2="817.0" stroke="#000" stroke-width="1" shape-rendering="crispEdges"/>
<text x="12.3" y="827.5" font-family="Liberation Sans, sans-serif" font-size="12.6" fill="#000" stroke="#000" stroke-width="0.2">11 Apr 2021</text>
<line x1="109.5" y1="812.0" x2="109.5" y2="817.0" stroke="#000" stroke-width="1" shape-rendering="crispEdges"/>
<text x="108.3" y="827.5" font-family="Liberation Sans, sans-serif" font-size="12.6" fill="#000" stroke="#000" stroke-width="0.2">26 Sep 2021</text>
<line x1="205.5" y1="812.0" x2="205.5" y2="817.0" stroke="#000" stroke-width="1" shape-rendering="crispEdges"/>
<text x="204.3" y="827.5" font-family="Liberation Sans, sans-serif" font-size="12.6" fill="#000" stroke="#000" stroke-width="0.2">13 Mar 2022</text>
<line x1="301.5" y1="812.0" x2="301.5" y2="817.0" stroke="#000" stroke-width="1" shape-rendering="crispEdges"/>
<text x="300.3" y="827.5" font-family="Liberation Sans, sans-serif" font-size="12.6" fill="#000" stroke="#000" stroke-width="0.2">28 Aug 2022</text>
<line x1="397.5" y1="812.0" x2="397.5" y2="817.0" stroke="#000" stroke-width="1" shape-rendering="crispEdges"/>
<text x="396.3" y="827.5" font-family="Liberation Sans, sans-serif" font-size="12.6" fill="#000" stroke="#000" stroke-width="0.2">12 Feb 2023</text>
<line x1="493.5" y1="812.0" x2="493.5" y2="817.0" stroke="#000" stroke-width="1" shape-rendering="crispEdges"/>
<text x="492.3" y="827.5" font-family="Liberation Sans, sans-serif" font-size="12.6" fill="#000" stroke="#000" stroke-width="0.2">30 Jul 2023</text>
<line x1="589.5" y1="812.0" x2="589.5" y2="817.0" stroke="#000" stroke-width="1" shape-rendering="crispEdges"/>
<text x="588.3" y="827.5" font-family="Liberation Sans, sans-serif" font-size="12.6" fill="#000" stroke="#000" stroke-width="0.2">14 Jan 2024</text>
<line x1="685.5" y1="812.0" x2="685.5" y2="817.0" stroke="#000" stroke-width="1" shape-rendering="crispEdges"/>
<text x="684.3" y="827.5" font-family="Liberation Sans, sans-serif" font-size="12.6" fill="#000" stroke="#000" stroke-width="0.2">30 Jun 2024</text>
<line x1="781.5" y1="812.0" x2="781.5" y2="817.0" stroke="#000" stroke-width="1" shape-rendering="crispEdges"/>
<text x="780.3" y="827.5" font-family="Liberation Sans, sans-serif" font-size="12.6" fill="#000" stroke="#000" stroke-width="0.2">15 Dec 2024</text>
<line x1="877.5" y1="812.0" x2="877.5" y2="817.0" stroke="#000" stroke-width="1" shape-rendering="crispEdges"/>
<text x="876.3" y="827.5" font-family="Liberation Sans, sans-serif" font-size="12.6" fill="#000" stroke="#000" stroke-width="0.2">1 Jun 2025</text>
<rect x="1157" y="0" width="2" height="830" fill="#e1e1e1"/>
</svg>
</body></html>
